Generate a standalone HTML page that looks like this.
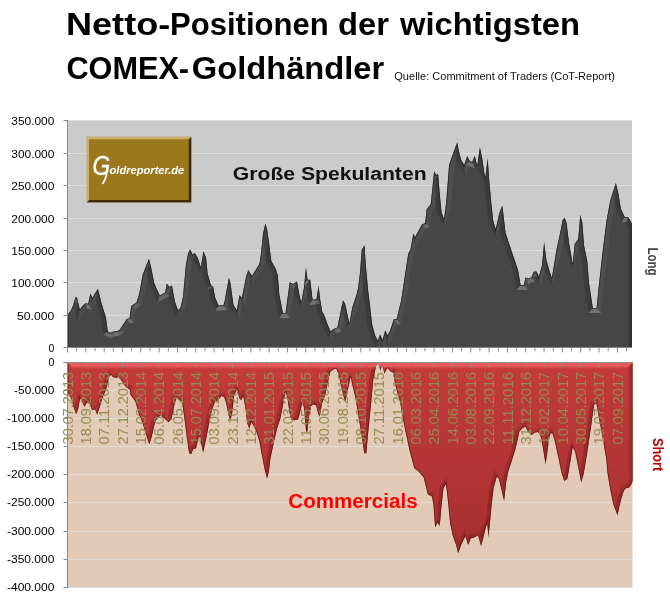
<!DOCTYPE html><html lang="de"><head><meta charset="utf-8"><title>Netto-Positionen der wichtigsten COMEX-Goldhändler</title>
<style>html,body{margin:0;padding:0;background:#fff}svg{display:block}text{font-family:"Liberation Sans",Arial,sans-serif}</style></head><body>
<svg width="670" height="598" viewBox="0 0 670 598">
<defs>
<linearGradient id="gRed" gradientUnits="userSpaceOnUse" x1="0" y1="363" x2="0" y2="555"><stop offset="0" stop-color="#c43a3a"/><stop offset="0.45" stop-color="#b63636"/><stop offset="1" stop-color="#a43030"/></linearGradient>
<clipPath id="cT"><path d="M67.7,348.0 L67.7,314.4 L70.7,311.0 L73.2,305.2 L75.4,297.2 L77.0,297.7 L79.9,309.4 L82.4,306.0 L85.4,303.2 L88.2,303.8 L90.4,293.5 L92.4,297.7 L97.9,288.8 L101.6,303.5 L105.8,316.9 L107.8,331.4 L110.8,332.8 L113.3,331.4 L117.5,331.1 L120.0,329.4 L126.7,318.9 L129.6,318.2 L131.2,306.0 L136.7,302.2 L139.3,293.5 L142.6,275.1 L148.9,258.7 L151.0,266.7 L154.3,283.4 L159.7,295.5 L165.2,292.6 L166.8,283.5 L169.4,287.1 L171.9,285.5 L175.0,301.9 L178.0,310.2 L180.4,308.2 L183.0,296.9 L185.9,265.1 L188.1,253.4 L190.1,249.2 L192.6,254.7 L194.7,253.0 L197.6,257.6 L200.9,267.6 L203.4,251.2 L206.0,257.6 L207.6,273.4 L211.0,285.2 L213.1,286.8 L215.2,297.7 L218.5,305.6 L223.5,305.2 L224.8,300.2 L228.9,277.7 L230.5,283.5 L233.5,305.2 L236.9,310.2 L239.4,295.2 L241.9,297.7 L246.1,276.8 L248.3,270.1 L251.9,276.0 L259.4,264.1 L260.9,254.7 L263.0,233.8 L265.3,223.6 L267.1,229.6 L269.2,244.3 L271.3,261.0 L275.5,268.3 L277.8,275.6 L279.3,294.4 L283.0,313.2 L285.5,313.2 L289.7,282.3 L292.9,284.0 L297.0,281.5 L299.1,293.4 L301.2,302.8 L303.9,288.2 L306.0,267.5 L307.5,279.8 L310.2,279.8 L312.3,297.6 L312.7,299.7 L316.5,299.2 L318.6,285.7 L320.0,298.6 L322.1,311.2 L324.8,316.4 L327.3,323.7 L330.5,331.6 L333.6,328.9 L337.4,327.5 L339.9,315.3 L343.0,300.3 L345.1,303.8 L347.2,313.2 L349.3,323.7 L352.4,307.0 L356.6,294.4 L358.1,288.2 L360.1,272.1 L361.7,250.1 L364.5,245.3 L365.7,264.1 L368.1,290.2 L370.1,306.3 L372.1,324.3 L375.1,335.4 L377.7,340.4 L380.1,334.6 L382.5,340.0 L385.2,330.5 L387.8,335.4 L390.2,330.3 L393.8,319.3 L396.6,319.3 L401.2,300.2 L404.2,280.2 L408.2,254.1 L410.6,249.1 L413.4,233.5 L415.0,237.3 L422.1,224.3 L425.1,223.3 L426.7,209.3 L430.7,204.2 L432.1,191.2 L434.1,171.3 L436.1,175.1 L438.1,174.1 L439.5,191.2 L441.5,212.3 L444.1,219.3 L446.1,203.2 L449.1,165.1 L452.2,156.1 L457.2,142.2 L458.8,151.1 L461.2,160.1 L464.2,165.1 L467.2,155.9 L469.6,161.1 L472.2,162.1 L474.8,155.9 L477.2,166.1 L479.9,147.2 L482.3,159.1 L484.3,173.1 L485.3,178.1 L487.7,158.3 L489.3,181.2 L491.3,203.2 L493.3,221.3 L495.7,229.3 L499.3,213.3 L502.3,205.4 L503.8,217.7 L505.5,232.7 L511.3,250.3 L518.1,270.3 L520.6,284.9 L523.8,284.9 L525.6,277.4 L528.1,278.4 L531.4,277.4 L533.9,271.6 L536.4,271.6 L538.9,276.6 L542.1,265.3 L544.1,241.9 L546.4,260.3 L549.7,271.6 L551.9,277.9 L556.4,250.3 L560.2,232.7 L562.7,219.7 L564.7,217.7 L566.5,222.7 L569.0,242.7 L572.7,264.1 L574.7,244.0 L578.3,239.0 L580.3,214.8 L582.3,222.7 L584.0,245.2 L587.3,261.5 L589.0,282.9 L592.8,308.0 L596.6,308.0 L599.1,282.9 L602.8,250.3 L606.6,220.2 L610.4,200.1 L615.9,183.0 L618.4,193.8 L620.9,208.9 L624.9,217.2 L628.4,217.2 L632.0,223.9 L632.0,348.0 Z"/></clipPath>
<clipPath id="cB"><path d="M67.7,362.5 L67.7,393.1 L71.0,398.1 L74.0,408.2 L76.1,414.3 L78.1,409.2 L80.1,398.1 L82.1,402.2 L84.5,406.7 L87.1,402.2 L90.1,404.2 L92.1,410.2 L95.1,409.2 L97.1,414.7 L99.7,407.2 L102.1,399.2 L106.2,389.1 L109.0,377.0 L111.0,374.6 L112.8,377.0 L115.6,377.8 L118.8,377.0 L121.6,380.8 L125.5,386.4 L129.7,389.4 L130.6,395.1 L135.3,401.2 L139.3,415.2 L142.3,422.2 L146.3,435.3 L149.3,444.4 L151.3,438.3 L155.3,421.2 L160.3,415.2 L164.4,418.2 L168.4,422.2 L171.4,419.2 L175.0,402.2 L177.0,397.1 L180.0,400.2 L182.0,401.2 L184.0,415.2 L187.1,439.3 L189.1,453.3 L191.1,454.3 L193.1,449.3 L196.1,448.3 L199.1,435.3 L201.1,443.3 L203.1,452.8 L206.1,439.3 L209.1,423.2 L212.1,409.2 L215.2,401.2 L218.2,400.2 L221.2,396.1 L224.2,397.1 L226.2,403.2 L228.2,413.2 L230.2,420.7 L232.2,413.2 L234.2,395.1 L237.2,389.1 L239.2,398.1 L241.2,400.2 L243.3,396.1 L245.3,407.2 L247.3,423.2 L249.3,428.7 L251.3,422.2 L253.3,425.2 L256.3,431.3 L259.3,441.3 L262.3,457.3 L264.7,469.4 L267.0,478.5 L268.8,472.0 L270.3,459.4 L273.6,443.3 L277.2,428.0 L280.5,418.0 L283.2,404.0 L285.5,391.4 L287.2,397.0 L289.0,409.0 L290.2,416.5 L291.5,419.5 L294.0,420.2 L298.1,419.6 L300.1,412.2 L302.1,403.2 L304.1,407.2 L306.1,431.3 L307.3,432.0 L309.1,415.2 L311.1,406.2 L313.1,404.2 L316.1,405.2 L318.1,413.2 L319.7,416.7 L322.1,403.2 L325.2,395.1 L328.2,381.1 L330.2,372.1 L333.2,369.4 L336.2,368.6 L338.2,373.1 L340.2,382.1 L343.2,395.1 L345.2,401.7 L347.2,393.1 L349.3,383.0 L350.6,376.5 L351.9,383.0 L355.3,397.1 L358.3,415.2 L361.3,433.3 L364.3,453.3 L366.3,453.3 L368.3,431.3 L371.3,401.2 L373.3,379.1 L376.3,365.0 L378.7,363.5 L380.3,370.5 L382.3,365.0 L384.4,373.6 L387.4,368.0 L388.7,369.2 L390.9,371.7 L393.4,372.6 L395.0,383.4 L397.5,393.5 L400.1,401.8 L401.7,411.9 L404.2,425.2 L406.7,437.0 L408.4,445.3 L410.1,452.5 L414.3,468.2 L418.4,471.3 L423.7,477.6 L427.8,494.3 L432.0,496.4 L433.5,504.8 L435.1,527.2 L437.7,522.5 L439.7,526.1 L441.4,506.9 L443.5,488.1 L446.0,483.9 L447.7,498.5 L450.2,523.6 L452.9,536.1 L456.0,544.5 L458.1,553.3 L461.3,544.5 L465.4,536.1 L468.2,544.9 L470.7,538.2 L474.8,537.2 L478.0,535.1 L481.1,546.0 L483.2,538.2 L485.7,527.8 L487.4,523.6 L488.4,537.6 L489.9,523.6 L491.6,504.8 L493.6,488.1 L496.8,476.6 L498.9,478.7 L501.6,490.1 L504.1,501.0 L506.2,481.8 L508.3,471.3 L511.4,461.9 L515.6,448.4 L519.4,431.4 L523.0,427.7 L525.5,426.5 L527.9,431.4 L531.5,435.0 L535.2,432.6 L538.3,432.1 L541.2,437.4 L543.6,452.0 L545.6,464.4 L547.3,452.0 L549.7,435.0 L552.1,432.6 L554.6,439.9 L558.2,456.8 L561.8,473.8 L564.3,481.1 L567.4,478.7 L570.3,461.7 L572.7,447.1 L575.2,452.0 L577.6,464.1 L581.2,482.6 L583.7,473.8 L587.3,452.0 L590.9,427.7 L594.1,404.7 L596.5,403.5 L599.4,420.5 L603.1,439.9 L606.4,460.0 L607.6,474.0 L610.5,490.4 L613.4,504.5 L617.5,515.3 L619.3,506.8 L621.6,497.5 L623.9,490.4 L626.3,488.1 L629.2,487.5 L631.8,483.4 L632.5,481.1 L632.5,362.5 Z"/></clipPath>
<filter id="bl1" x="-5%" y="-5%" width="110%" height="110%"><feGaussianBlur stdDeviation="0.9"/></filter>
<filter id="bl2" x="-5%" y="-5%" width="110%" height="110%"><feGaussianBlur stdDeviation="1.5"/></filter>
<filter id="bl0" x="-5%" y="-5%" width="110%" height="110%"><feGaussianBlur stdDeviation="0.5"/></filter>
</defs>
<rect width="670" height="598" fill="#fff"/>
<text y="34.6" font-size="31.8" font-weight="bold" fill="#000"><tspan x="65.95" textLength="104.34" lengthAdjust="spacingAndGlyphs">Netto-</tspan><tspan x="170.00" textLength="158.65" lengthAdjust="spacingAndGlyphs">Positionen</tspan> <tspan x="338.10" textLength="50.94" lengthAdjust="spacingAndGlyphs">der</tspan> <tspan x="400.01" textLength="180.01" lengthAdjust="spacingAndGlyphs">wichtigsten</tspan></text>
<text y="79.0" font-size="31.8" font-weight="bold" fill="#000"><tspan x="66.45" textLength="122.60" lengthAdjust="spacingAndGlyphs">COMEX-</tspan><tspan x="191.75" textLength="192.52" lengthAdjust="spacingAndGlyphs">Goldhändler</tspan></text>
<text x="394.30" y="80.0" font-size="10.6" fill="#111" textLength="220.57" lengthAdjust="spacingAndGlyphs">Quelle: Commitment of Traders (CoT-Report)</text>
<rect x="67.5" y="120" width="564.5" height="228" fill="#cbcbcb"/>
<line x1="67.5" x2="632.0" y1="315.5" y2="315.5" stroke="#dddddd" stroke-width="1"/>
<line x1="67.5" x2="632.0" y1="282.5" y2="282.5" stroke="#dddddd" stroke-width="1"/>
<line x1="67.5" x2="632.0" y1="250.5" y2="250.5" stroke="#dddddd" stroke-width="1"/>
<line x1="67.5" x2="632.0" y1="218.5" y2="218.5" stroke="#dddddd" stroke-width="1"/>
<line x1="67.5" x2="632.0" y1="185.5" y2="185.5" stroke="#dddddd" stroke-width="1"/>
<line x1="67.5" x2="632.0" y1="153.5" y2="153.5" stroke="#dddddd" stroke-width="1"/>
<line x1="67.5" x2="632.0" y1="120.5" y2="120.5" stroke="#dddddd" stroke-width="1"/>
<path d="M67.7,348.0 L67.7,314.4 L70.7,311.0 L73.2,305.2 L75.4,297.2 L77.0,297.7 L79.9,309.4 L82.4,306.0 L85.4,303.2 L88.2,303.8 L90.4,293.5 L92.4,297.7 L97.9,288.8 L101.6,303.5 L105.8,316.9 L107.8,331.4 L110.8,332.8 L113.3,331.4 L117.5,331.1 L120.0,329.4 L126.7,318.9 L129.6,318.2 L131.2,306.0 L136.7,302.2 L139.3,293.5 L142.6,275.1 L148.9,258.7 L151.0,266.7 L154.3,283.4 L159.7,295.5 L165.2,292.6 L166.8,283.5 L169.4,287.1 L171.9,285.5 L175.0,301.9 L178.0,310.2 L180.4,308.2 L183.0,296.9 L185.9,265.1 L188.1,253.4 L190.1,249.2 L192.6,254.7 L194.7,253.0 L197.6,257.6 L200.9,267.6 L203.4,251.2 L206.0,257.6 L207.6,273.4 L211.0,285.2 L213.1,286.8 L215.2,297.7 L218.5,305.6 L223.5,305.2 L224.8,300.2 L228.9,277.7 L230.5,283.5 L233.5,305.2 L236.9,310.2 L239.4,295.2 L241.9,297.7 L246.1,276.8 L248.3,270.1 L251.9,276.0 L259.4,264.1 L260.9,254.7 L263.0,233.8 L265.3,223.6 L267.1,229.6 L269.2,244.3 L271.3,261.0 L275.5,268.3 L277.8,275.6 L279.3,294.4 L283.0,313.2 L285.5,313.2 L289.7,282.3 L292.9,284.0 L297.0,281.5 L299.1,293.4 L301.2,302.8 L303.9,288.2 L306.0,267.5 L307.5,279.8 L310.2,279.8 L312.3,297.6 L312.7,299.7 L316.5,299.2 L318.6,285.7 L320.0,298.6 L322.1,311.2 L324.8,316.4 L327.3,323.7 L330.5,331.6 L333.6,328.9 L337.4,327.5 L339.9,315.3 L343.0,300.3 L345.1,303.8 L347.2,313.2 L349.3,323.7 L352.4,307.0 L356.6,294.4 L358.1,288.2 L360.1,272.1 L361.7,250.1 L364.5,245.3 L365.7,264.1 L368.1,290.2 L370.1,306.3 L372.1,324.3 L375.1,335.4 L377.7,340.4 L380.1,334.6 L382.5,340.0 L385.2,330.5 L387.8,335.4 L390.2,330.3 L393.8,319.3 L396.6,319.3 L401.2,300.2 L404.2,280.2 L408.2,254.1 L410.6,249.1 L413.4,233.5 L415.0,237.3 L422.1,224.3 L425.1,223.3 L426.7,209.3 L430.7,204.2 L432.1,191.2 L434.1,171.3 L436.1,175.1 L438.1,174.1 L439.5,191.2 L441.5,212.3 L444.1,219.3 L446.1,203.2 L449.1,165.1 L452.2,156.1 L457.2,142.2 L458.8,151.1 L461.2,160.1 L464.2,165.1 L467.2,155.9 L469.6,161.1 L472.2,162.1 L474.8,155.9 L477.2,166.1 L479.9,147.2 L482.3,159.1 L484.3,173.1 L485.3,178.1 L487.7,158.3 L489.3,181.2 L491.3,203.2 L493.3,221.3 L495.7,229.3 L499.3,213.3 L502.3,205.4 L503.8,217.7 L505.5,232.7 L511.3,250.3 L518.1,270.3 L520.6,284.9 L523.8,284.9 L525.6,277.4 L528.1,278.4 L531.4,277.4 L533.9,271.6 L536.4,271.6 L538.9,276.6 L542.1,265.3 L544.1,241.9 L546.4,260.3 L549.7,271.6 L551.9,277.9 L556.4,250.3 L560.2,232.7 L562.7,219.7 L564.7,217.7 L566.5,222.7 L569.0,242.7 L572.7,264.1 L574.7,244.0 L578.3,239.0 L580.3,214.8 L582.3,222.7 L584.0,245.2 L587.3,261.5 L589.0,282.9 L592.8,308.0 L596.6,308.0 L599.1,282.9 L602.8,250.3 L606.6,220.2 L610.4,200.1 L615.9,183.0 L618.4,193.8 L620.9,208.9 L624.9,217.2 L628.4,217.2 L632.0,223.9 L632.0,348.0 Z" fill="#464646"/>
<g clip-path="url(#cT)">
<g filter="url(#bl0)"><path d="M67.7,314.4 L70.7,311.0 L75.0,313.7 L71.4,317.7 Z" fill="#fff" opacity="0.02"/><path d="M70.7,311.0 L73.2,305.2 L77.9,306.9 L75.0,313.7 Z" fill="#fff" opacity="0.04"/><path d="M73.2,305.2 L75.4,297.2 L78.8,303.5 L77.9,306.9 Z" fill="#fff" opacity="0.05"/><path d="M75.4,297.2 L77.0,297.7 L72.8,301.6 L78.8,303.5 Z" fill="#fff" opacity="0.21"/><path d="M77.0,297.7 L79.9,309.4 L77.6,321.0 L72.8,301.6 Z" fill="#000" opacity="0.15"/><path d="M79.9,309.4 L82.4,306.0 L86.2,309.3 L77.6,321.0 Z" fill="#fff" opacity="0.03"/><path d="M82.4,306.0 L85.4,303.2 L86.9,308.6 L86.2,309.3 Z" fill="#fff" opacity="0.02"/><path d="M85.4,303.2 L88.2,303.8 L92.0,309.7 L86.9,308.6 Z" fill="#fff" opacity="0.23"/><path d="M88.2,303.8 L90.4,293.5 L91.5,302.6 L92.0,309.7 Z" fill="#fff" opacity="0.05"/><path d="M90.4,293.5 L92.4,297.7 L91.8,308.1 L91.5,302.6 Z" fill="#000" opacity="0.13"/><path d="M92.4,297.7 L97.9,288.8 L96.2,299.8 L91.8,308.1 Z" fill="#fff" opacity="0.04"/><path d="M97.9,288.8 L101.6,303.5 L96.8,304.9 L96.2,299.8 Z" fill="#000" opacity="0.15"/><path d="M101.6,303.5 L105.8,316.9 L100.9,318.0 L96.8,304.9 Z" fill="#000" opacity="0.15"/><path d="M105.8,316.9 L107.8,331.4 L103.2,334.8 L100.9,318.0 Z" fill="#000" opacity="0.16"/><path d="M107.8,331.4 L110.8,332.8 L111.0,338.4 L103.2,334.8 Z" fill="#fff" opacity="0.18"/><path d="M110.8,332.8 L113.3,331.4 L114.8,336.3 L111.0,338.4 Z" fill="#fff" opacity="0.16"/><path d="M113.3,331.4 L117.5,331.1 L119.2,336.0 L114.8,336.3 Z" fill="#fff" opacity="0.24"/><path d="M117.5,331.1 L120.0,329.4 L123.7,333.0 L119.2,336.0 Z" fill="#fff" opacity="0.13"/><path d="M120.0,329.4 L126.7,318.9 L129.8,323.3 L123.7,333.0 Z" fill="#fff" opacity="0.03"/><path d="M126.7,318.9 L129.6,318.2 L134.1,322.3 L129.8,323.3 Z" fill="#fff" opacity="0.22"/><path d="M129.6,318.2 L131.2,306.0 L135.9,308.9 L134.1,322.3 Z" fill="#fff" opacity="0.05"/><path d="M131.2,306.0 L136.7,302.2 L141.0,305.3 L135.9,308.9 Z" fill="#fff" opacity="0.13"/><path d="M136.7,302.2 L139.3,293.5 L144.2,294.7 L141.0,305.3 Z" fill="#fff" opacity="0.05"/><path d="M139.3,293.5 L142.6,275.1 L147.4,276.4 L144.2,294.7 Z" fill="#fff" opacity="0.05"/><path d="M142.6,275.1 L148.9,258.7 L148.4,267.4 L147.4,276.4 Z" fill="#fff" opacity="0.04"/><path d="M148.9,258.7 L151.0,266.7 L146.1,267.8 L148.4,267.4 Z" fill="#000" opacity="0.15"/><path d="M151.0,266.7 L154.3,283.4 L149.5,284.9 L146.1,267.8 Z" fill="#000" opacity="0.15"/><path d="M154.3,283.4 L159.7,295.5 L157.3,302.4 L149.5,284.9 Z" fill="#000" opacity="0.13"/><path d="M159.7,295.5 L165.2,292.6 L169.7,295.9 L157.3,302.4 Z" fill="#fff" opacity="0.17"/><path d="M165.2,292.6 L166.8,283.5 L169.3,294.3 L169.7,295.9 Z" fill="#fff" opacity="0.05"/><path d="M166.8,283.5 L169.4,287.1 L168.1,293.9 L169.3,294.3 Z" fill="#000" opacity="0.10"/><path d="M169.4,287.1 L171.9,285.5 L168.4,293.7 L168.1,293.9 Z" fill="#fff" opacity="0.14"/><path d="M171.9,285.5 L175.0,301.9 L170.2,303.2 L168.4,293.7 Z" fill="#000" opacity="0.15"/><path d="M175.0,301.9 L178.0,310.2 L175.7,318.6 L170.2,303.2 Z" fill="#000" opacity="0.14"/><path d="M178.0,310.2 L180.4,308.2 L184.9,311.0 L175.7,318.6 Z" fill="#fff" opacity="0.01"/><path d="M180.4,308.2 L183.0,296.9 L187.9,297.7 L184.9,311.0 Z" fill="#fff" opacity="0.05"/><path d="M183.0,296.9 L185.9,265.1 L190.9,265.8 L187.9,297.7 Z" fill="#fff" opacity="0.05"/><path d="M185.9,265.1 L188.1,253.4 L192.9,255.0 L190.9,265.8 Z" fill="#fff" opacity="0.05"/><path d="M188.1,253.4 L190.1,249.2 L190.0,261.1 L192.9,255.0 Z" fill="#fff" opacity="0.04"/><path d="M190.1,249.2 L192.6,254.7 L190.7,262.7 L190.0,261.1 Z" fill="#000" opacity="0.13"/><path d="M192.6,254.7 L194.7,253.0 L193.5,260.4 L190.7,262.7 Z" fill="#fff" opacity="0.01"/><path d="M194.7,253.0 L197.6,257.6 L193.0,259.7 L193.5,260.4 Z" fill="#000" opacity="0.11"/><path d="M197.6,257.6 L200.9,267.6 L201.5,274.2 L193.0,259.7 Z" fill="#000" opacity="0.14"/><path d="M200.9,267.6 L203.4,251.2 L204.3,258.7 L201.5,274.2 Z" fill="#fff" opacity="0.05"/><path d="M203.4,251.2 L206.0,257.6 L201.1,258.8 L204.3,258.7 Z" fill="#000" opacity="0.14"/><path d="M206.0,257.6 L207.6,273.4 L202.7,274.4 L201.1,258.8 Z" fill="#000" opacity="0.16"/><path d="M207.6,273.4 L211.0,285.2 L206.7,288.2 L202.7,274.4 Z" fill="#000" opacity="0.15"/><path d="M211.0,285.2 L213.1,286.8 L208.6,289.6 L206.7,288.2 Z" fill="#fff" opacity="0.11"/><path d="M213.1,286.8 L215.2,297.7 L210.4,299.2 L208.6,289.6 Z" fill="#000" opacity="0.15"/><path d="M215.2,297.7 L218.5,305.6 L215.3,310.9 L210.4,299.2 Z" fill="#000" opacity="0.14"/><path d="M218.5,305.6 L223.5,305.2 L227.4,309.9 L215.3,310.9 Z" fill="#fff" opacity="0.24"/><path d="M223.5,305.2 L224.8,300.2 L229.7,301.3 L227.4,309.9 Z" fill="#fff" opacity="0.05"/><path d="M224.8,300.2 L228.9,277.7 L229.2,284.1 L229.7,301.3 Z" fill="#fff" opacity="0.05"/><path d="M228.9,277.7 L230.5,283.5 L225.6,284.5 L229.2,284.1 Z" fill="#000" opacity="0.15"/><path d="M230.5,283.5 L233.5,305.2 L228.7,307.0 L225.6,284.5 Z" fill="#000" opacity="0.16"/><path d="M233.5,305.2 L236.9,310.2 L239.2,320.6 L228.7,307.0 Z" fill="#000" opacity="0.10"/><path d="M236.9,310.2 L239.4,295.2 L242.7,305.6 L239.2,320.6 Z" fill="#fff" opacity="0.05"/><path d="M239.4,295.2 L241.9,297.7 L245.0,307.8 L242.7,305.6 Z" fill="#000" opacity="0.07"/><path d="M241.9,297.7 L246.1,276.8 L250.9,278.1 L245.0,307.8 Z" fill="#fff" opacity="0.05"/><path d="M246.1,276.8 L248.3,270.1 L249.7,281.9 L250.9,278.1 Z" fill="#fff" opacity="0.05"/><path d="M248.3,270.1 L251.9,276.0 L251.8,285.5 L249.7,281.9 Z" fill="#000" opacity="0.11"/><path d="M251.9,276.0 L259.4,264.1 L264.2,265.9 L251.8,285.5 Z" fill="#fff" opacity="0.03"/><path d="M259.4,264.1 L260.9,254.7 L265.9,255.3 L264.2,265.9 Z" fill="#fff" opacity="0.05"/><path d="M260.9,254.7 L263.0,233.8 L267.9,234.6 L265.9,255.3 Z" fill="#fff" opacity="0.05"/><path d="M263.0,233.8 L265.3,223.6 L265.6,230.8 L267.9,234.6 Z" fill="#fff" opacity="0.05"/><path d="M265.3,223.6 L267.1,229.6 L262.2,230.7 L265.6,230.8 Z" fill="#000" opacity="0.15"/><path d="M267.1,229.6 L269.2,244.3 L264.2,245.0 L262.2,230.7 Z" fill="#000" opacity="0.16"/><path d="M269.2,244.3 L271.3,261.0 L266.5,262.6 L264.2,245.0 Z" fill="#000" opacity="0.16"/><path d="M271.3,261.0 L275.5,268.3 L270.9,270.3 L266.5,262.6 Z" fill="#000" opacity="0.12"/><path d="M275.5,268.3 L277.8,275.6 L272.9,276.6 L270.9,270.3 Z" fill="#000" opacity="0.15"/><path d="M277.8,275.6 L279.3,294.4 L274.3,295.1 L272.9,276.6 Z" fill="#000" opacity="0.16"/><path d="M279.3,294.4 L283.0,313.2 L278.9,318.2 L274.3,295.1 Z" fill="#000" opacity="0.15"/><path d="M283.0,313.2 L285.5,313.2 L289.9,318.2 L278.9,318.2 Z" fill="#fff" opacity="0.24"/><path d="M285.5,313.2 L289.7,282.3 L293.7,290.1 L289.9,318.2 Z" fill="#fff" opacity="0.05"/><path d="M289.7,282.3 L292.9,284.0 L293.1,289.8 L293.7,290.1 Z" fill="#fff" opacity="0.17"/><path d="M292.9,284.0 L297.0,281.5 L293.3,289.6 L293.1,289.8 Z" fill="#fff" opacity="0.15"/><path d="M297.0,281.5 L299.1,293.4 L294.2,294.4 L293.3,289.6 Z" fill="#000" opacity="0.16"/><path d="M299.1,293.4 L301.2,302.8 L301.3,308.5 L294.2,294.4 Z" fill="#000" opacity="0.15"/><path d="M301.2,302.8 L303.9,288.2 L308.9,288.9 L301.3,308.5 Z" fill="#fff" opacity="0.05"/><path d="M303.9,288.2 L306.0,267.5 L306.0,270.7 L308.9,288.9 Z" fill="#fff" opacity="0.05"/><path d="M306.0,267.5 L307.5,279.8 L303.1,284.8 L306.0,270.7 Z" fill="#000" opacity="0.16"/><path d="M307.5,279.8 L310.2,279.8 L305.8,284.8 L303.1,284.8 Z" fill="#fff" opacity="0.24"/><path d="M310.2,279.8 L312.3,297.6 L307.4,298.4 L305.8,284.8 Z" fill="#000" opacity="0.16"/><path d="M312.3,297.6 L312.7,299.7 L308.7,305.3 L307.4,298.4 Z" fill="#000" opacity="0.15"/><path d="M312.7,299.7 L316.5,299.2 L320.9,303.7 L308.7,305.3 Z" fill="#fff" opacity="0.23"/><path d="M316.5,299.2 L318.6,285.7 L318.5,289.4 L320.9,303.7 Z" fill="#fff" opacity="0.05"/><path d="M318.6,285.7 L320.0,298.6 L315.0,299.3 L318.5,289.4 Z" fill="#000" opacity="0.16"/><path d="M320.0,298.6 L322.1,311.2 L317.3,312.8 L315.0,299.3 Z" fill="#000" opacity="0.16"/><path d="M322.1,311.2 L324.8,316.4 L320.2,318.4 L317.3,312.8 Z" fill="#000" opacity="0.12"/><path d="M324.8,316.4 L327.3,323.7 L322.6,325.4 L320.2,318.4 Z" fill="#000" opacity="0.14"/><path d="M327.3,323.7 L330.5,331.6 L328.5,340.0 L322.6,325.4 Z" fill="#000" opacity="0.14"/><path d="M330.5,331.6 L333.6,328.9 L336.2,333.3 L328.5,340.0 Z" fill="#fff" opacity="0.02"/><path d="M333.6,328.9 L337.4,327.5 L341.7,331.2 L336.2,333.3 Z" fill="#fff" opacity="0.20"/><path d="M337.4,327.5 L339.9,315.3 L344.8,316.3 L341.7,331.2 Z" fill="#fff" opacity="0.05"/><path d="M339.9,315.3 L343.0,300.3 L344.7,310.5 L344.8,316.3 Z" fill="#fff" opacity="0.05"/><path d="M343.0,300.3 L345.1,303.8 L340.4,305.7 L344.7,310.5 Z" fill="#000" opacity="0.11"/><path d="M345.1,303.8 L347.2,313.2 L342.3,314.2 L340.4,305.7 Z" fill="#000" opacity="0.15"/><path d="M347.2,313.2 L349.3,323.7 L349.3,329.1 L342.3,314.2 Z" fill="#000" opacity="0.15"/><path d="M349.3,323.7 L352.4,307.0 L357.3,308.3 L349.3,329.1 Z" fill="#fff" opacity="0.05"/><path d="M352.4,307.0 L356.6,294.4 L361.4,295.8 L357.3,308.3 Z" fill="#fff" opacity="0.04"/><path d="M356.6,294.4 L358.1,288.2 L363.0,289.1 L361.4,295.8 Z" fill="#fff" opacity="0.05"/><path d="M358.1,288.2 L360.1,272.1 L365.1,272.6 L363.0,289.1 Z" fill="#fff" opacity="0.05"/><path d="M360.1,272.1 L361.7,250.1 L366.6,251.6 L365.1,272.6 Z" fill="#fff" opacity="0.05"/><path d="M361.7,250.1 L364.5,245.3 L362.6,253.4 L366.6,251.6 Z" fill="#fff" opacity="0.04"/><path d="M364.5,245.3 L365.7,264.1 L360.7,264.5 L362.6,253.4 Z" fill="#000" opacity="0.16"/><path d="M365.7,264.1 L368.1,290.2 L363.1,290.7 L360.7,264.5 Z" fill="#000" opacity="0.16"/><path d="M368.1,290.2 L370.1,306.3 L365.1,306.9 L363.1,290.7 Z" fill="#000" opacity="0.16"/><path d="M370.1,306.3 L372.1,324.3 L367.2,325.2 L365.1,306.9 Z" fill="#000" opacity="0.16"/><path d="M372.1,324.3 L375.1,335.4 L370.4,337.2 L367.2,325.2 Z" fill="#000" opacity="0.15"/><path d="M375.1,335.4 L377.7,340.4 L378.2,352.2 L370.4,337.2 Z" fill="#000" opacity="0.12"/><path d="M377.7,340.4 L380.1,334.6 L380.2,345.9 L378.2,352.2 Z" fill="#fff" opacity="0.04"/><path d="M380.1,334.6 L382.5,340.0 L383.2,349.7 L380.2,345.9 Z" fill="#000" opacity="0.13"/><path d="M382.5,340.0 L385.2,330.5 L386.3,341.1 L383.2,349.7 Z" fill="#fff" opacity="0.05"/><path d="M385.2,330.5 L387.8,335.4 L388.1,346.6 L386.3,341.1 Z" fill="#000" opacity="0.12"/><path d="M387.8,335.4 L390.2,330.3 L394.9,332.1 L388.1,346.6 Z" fill="#fff" opacity="0.04"/><path d="M390.2,330.3 L393.8,319.3 L397.4,324.3 L394.9,332.1 Z" fill="#fff" opacity="0.05"/><path d="M393.8,319.3 L396.6,319.3 L400.5,324.3 L397.4,324.3 Z" fill="#fff" opacity="0.24"/><path d="M396.6,319.3 L401.2,300.2 L406.1,301.2 L400.5,324.3 Z" fill="#fff" opacity="0.05"/><path d="M401.2,300.2 L404.2,280.2 L409.1,280.9 L406.1,301.2 Z" fill="#fff" opacity="0.05"/><path d="M404.2,280.2 L408.2,254.1 L413.0,255.6 L409.1,280.9 Z" fill="#fff" opacity="0.05"/><path d="M408.2,254.1 L410.6,249.1 L415.4,250.7 L413.0,255.6 Z" fill="#fff" opacity="0.04"/><path d="M410.6,249.1 L413.4,233.5 L414.3,241.6 L415.4,250.7 Z" fill="#fff" opacity="0.05"/><path d="M413.4,233.5 L415.0,237.3 L414.4,248.8 L414.3,241.6 Z" fill="#000" opacity="0.13"/><path d="M415.0,237.3 L422.1,224.3 L425.5,228.4 L414.4,248.8 Z" fill="#fff" opacity="0.04"/><path d="M422.1,224.3 L425.1,223.3 L429.7,227.0 L425.5,228.4 Z" fill="#fff" opacity="0.21"/><path d="M425.1,223.3 L426.7,209.3 L431.5,211.3 L429.7,227.0 Z" fill="#fff" opacity="0.05"/><path d="M426.7,209.3 L430.7,204.2 L435.5,206.2 L431.5,211.3 Z" fill="#fff" opacity="0.03"/><path d="M430.7,204.2 L432.1,191.2 L437.1,191.7 L435.5,206.2 Z" fill="#fff" opacity="0.05"/><path d="M432.1,191.2 L434.1,171.3 L435.7,179.4 L437.1,191.7 Z" fill="#fff" opacity="0.05"/><path d="M434.1,171.3 L436.1,175.1 L434.0,181.8 L435.7,179.4 Z" fill="#000" opacity="0.12"/><path d="M436.1,175.1 L438.1,174.1 L433.7,181.9 L434.0,181.8 Z" fill="#fff" opacity="0.17"/><path d="M438.1,174.1 L439.5,191.2 L434.5,191.6 L433.7,181.9 Z" fill="#000" opacity="0.16"/><path d="M439.5,191.2 L441.5,212.3 L436.6,213.4 L434.5,191.6 Z" fill="#000" opacity="0.16"/><path d="M441.5,212.3 L444.1,219.3 L444.9,226.0 L436.6,213.4 Z" fill="#000" opacity="0.14"/><path d="M444.1,219.3 L446.1,203.2 L451.1,203.7 L444.9,226.0 Z" fill="#fff" opacity="0.05"/><path d="M446.1,203.2 L449.1,165.1 L454.0,166.1 L451.1,203.7 Z" fill="#fff" opacity="0.05"/><path d="M449.1,165.1 L452.2,156.1 L456.9,157.8 L454.0,166.1 Z" fill="#fff" opacity="0.04"/><path d="M452.2,156.1 L457.2,142.2 L456.6,149.6 L456.9,157.8 Z" fill="#fff" opacity="0.04"/><path d="M457.2,142.2 L458.8,151.1 L453.9,152.2 L456.6,149.6 Z" fill="#000" opacity="0.15"/><path d="M458.8,151.1 L461.2,160.1 L456.6,162.1 L453.9,152.2 Z" fill="#000" opacity="0.15"/><path d="M461.2,160.1 L464.2,165.1 L465.5,176.9 L456.6,162.1 Z" fill="#000" opacity="0.11"/><path d="M464.2,165.1 L467.2,155.9 L467.8,166.3 L465.5,176.9 Z" fill="#fff" opacity="0.05"/><path d="M467.2,155.9 L469.6,161.1 L465.9,165.0 L467.8,166.3 Z" fill="#000" opacity="0.13"/><path d="M469.6,161.1 L472.2,162.1 L474.9,168.5 L465.9,165.0 Z" fill="#fff" opacity="0.20"/><path d="M472.2,162.1 L474.8,155.9 L474.1,164.7 L474.9,168.5 Z" fill="#fff" opacity="0.04"/><path d="M474.8,155.9 L477.2,166.1 L477.4,171.4 L474.1,164.7 Z" fill="#000" opacity="0.15"/><path d="M477.2,166.1 L479.9,147.2 L480.0,152.0 L477.4,171.4 Z" fill="#fff" opacity="0.05"/><path d="M479.9,147.2 L482.3,159.1 L477.4,159.9 L480.0,152.0 Z" fill="#000" opacity="0.15"/><path d="M482.3,159.1 L484.3,173.1 L479.4,173.9 L477.4,159.9 Z" fill="#000" opacity="0.16"/><path d="M484.3,173.1 L485.3,178.1 L485.5,182.6 L479.4,173.9 Z" fill="#000" opacity="0.15"/><path d="M485.3,178.1 L487.7,158.3 L487.6,161.0 L485.5,182.6 Z" fill="#fff" opacity="0.05"/><path d="M487.7,158.3 L489.3,181.2 L484.3,181.6 L487.6,161.0 Z" fill="#000" opacity="0.16"/><path d="M489.3,181.2 L491.3,203.2 L486.3,203.7 L484.3,181.6 Z" fill="#000" opacity="0.16"/><path d="M491.3,203.2 L493.3,221.3 L488.4,222.3 L486.3,203.7 Z" fill="#000" opacity="0.16"/><path d="M493.3,221.3 L495.7,229.3 L496.0,236.5 L488.4,222.3 Z" fill="#000" opacity="0.15"/><path d="M495.7,229.3 L499.3,213.3 L504.1,214.7 L496.0,236.5 Z" fill="#fff" opacity="0.05"/><path d="M499.3,213.3 L502.3,205.4 L501.5,212.2 L504.1,214.7 Z" fill="#fff" opacity="0.04"/><path d="M502.3,205.4 L503.8,217.7 L498.8,218.3 L501.5,212.2 Z" fill="#000" opacity="0.16"/><path d="M503.8,217.7 L505.5,232.7 L500.6,233.8 L498.8,218.3 Z" fill="#000" opacity="0.16"/><path d="M505.5,232.7 L511.3,250.3 L506.6,251.9 L500.6,233.8 Z" fill="#000" opacity="0.14"/><path d="M511.3,250.3 L518.1,270.3 L513.2,271.5 L506.6,251.9 Z" fill="#000" opacity="0.14"/><path d="M518.1,270.3 L520.6,284.9 L516.4,289.9 L513.2,271.5 Z" fill="#000" opacity="0.16"/><path d="M520.6,284.9 L523.8,284.9 L527.7,289.9 L516.4,289.9 Z" fill="#fff" opacity="0.24"/><path d="M523.8,284.9 L525.6,277.4 L529.1,284.2 L527.7,289.9 Z" fill="#fff" opacity="0.05"/><path d="M525.6,277.4 L528.1,278.4 L527.9,283.7 L529.1,284.2 Z" fill="#fff" opacity="0.19"/><path d="M528.1,278.4 L531.4,277.4 L535.1,281.5 L527.9,283.7 Z" fill="#fff" opacity="0.21"/><path d="M531.4,277.4 L533.9,271.6 L537.2,276.6 L535.1,281.5 Z" fill="#fff" opacity="0.04"/><path d="M533.9,271.6 L536.4,271.6 L533.3,276.6 L537.2,276.6 Z" fill="#fff" opacity="0.24"/><path d="M536.4,271.6 L538.9,276.6 L539.9,286.9 L533.3,276.6 Z" fill="#000" opacity="0.13"/><path d="M538.9,276.6 L542.1,265.3 L547.0,266.2 L539.9,286.9 Z" fill="#fff" opacity="0.05"/><path d="M542.1,265.3 L544.1,241.9 L544.2,244.9 L547.0,266.2 Z" fill="#fff" opacity="0.05"/><path d="M544.1,241.9 L546.4,260.3 L541.5,261.3 L544.2,244.9 Z" fill="#000" opacity="0.16"/><path d="M546.4,260.3 L549.7,271.6 L544.9,273.1 L541.5,261.3 Z" fill="#000" opacity="0.15"/><path d="M549.7,271.6 L551.9,277.9 L552.5,284.9 L544.9,273.1 Z" fill="#000" opacity="0.14"/><path d="M551.9,277.9 L556.4,250.3 L561.3,251.2 L552.5,284.9 Z" fill="#fff" opacity="0.05"/><path d="M556.4,250.3 L560.2,232.7 L565.1,233.7 L561.3,251.2 Z" fill="#fff" opacity="0.05"/><path d="M560.2,232.7 L562.7,219.7 L567.3,222.2 L565.1,233.7 Z" fill="#fff" opacity="0.05"/><path d="M562.7,219.7 L564.7,217.7 L562.7,226.8 L567.3,222.2 Z" fill="#fff" opacity="0.02"/><path d="M564.7,217.7 L566.5,222.7 L561.6,223.9 L562.7,226.8 Z" fill="#000" opacity="0.14"/><path d="M566.5,222.7 L569.0,242.7 L564.1,243.4 L561.6,223.9 Z" fill="#000" opacity="0.16"/><path d="M569.0,242.7 L572.7,264.1 L572.8,267.9 L564.1,243.4 Z" fill="#000" opacity="0.16"/><path d="M572.7,264.1 L574.7,244.0 L579.5,245.8 L572.8,267.9 Z" fill="#fff" opacity="0.05"/><path d="M574.7,244.0 L578.3,239.0 L583.2,240.8 L579.5,245.8 Z" fill="#fff" opacity="0.03"/><path d="M578.3,239.0 L580.3,214.8 L580.7,219.5 L583.2,240.8 Z" fill="#fff" opacity="0.05"/><path d="M580.3,214.8 L582.3,222.7 L577.3,223.5 L580.7,219.5 Z" fill="#000" opacity="0.15"/><path d="M582.3,222.7 L584.0,245.2 L579.0,245.9 L577.3,223.5 Z" fill="#000" opacity="0.16"/><path d="M584.0,245.2 L587.3,261.5 L582.3,262.2 L579.0,245.9 Z" fill="#000" opacity="0.15"/><path d="M587.3,261.5 L589.0,282.9 L584.0,283.5 L582.3,262.2 Z" fill="#000" opacity="0.16"/><path d="M589.0,282.9 L592.8,308.0 L588.5,313.0 L584.0,283.5 Z" fill="#000" opacity="0.16"/><path d="M592.8,308.0 L596.6,308.0 L601.1,313.0 L588.5,313.0 Z" fill="#fff" opacity="0.24"/><path d="M596.6,308.0 L599.1,282.9 L604.1,283.4 L601.1,313.0 Z" fill="#fff" opacity="0.05"/><path d="M599.1,282.9 L602.8,250.3 L607.8,250.9 L604.1,283.4 Z" fill="#fff" opacity="0.05"/><path d="M602.8,250.3 L606.6,220.2 L611.5,221.0 L607.8,250.9 Z" fill="#fff" opacity="0.05"/><path d="M606.6,220.2 L610.4,200.1 L615.3,201.3 L611.5,221.0 Z" fill="#fff" opacity="0.05"/><path d="M610.4,200.1 L615.9,183.0 L615.6,190.6 L615.3,201.3 Z" fill="#fff" opacity="0.05"/><path d="M615.9,183.0 L618.4,193.8 L613.5,194.8 L615.6,190.6 Z" fill="#000" opacity="0.15"/><path d="M618.4,193.8 L620.9,208.9 L616.1,210.4 L613.5,194.8 Z" fill="#000" opacity="0.16"/><path d="M620.9,208.9 L624.9,217.2 L621.8,222.2 L616.1,210.4 Z" fill="#000" opacity="0.13"/><path d="M624.9,217.2 L628.4,217.2 L625.4,222.2 L621.8,222.2 Z" fill="#fff" opacity="0.24"/><path d="M628.4,217.2 L632.0,223.9 L627.6,226.3 L625.4,222.2 Z" fill="#000" opacity="0.12"/></g>
<path d="M67.7,355.5 L67.7,314.4 L70.7,311.0 L73.2,305.2 L75.4,297.2 L77.0,297.7 L79.9,309.4 L82.4,306.0 L85.4,303.2 L88.2,303.8 L90.4,293.5 L92.4,297.7 L97.9,288.8 L101.6,303.5 L105.8,316.9 L107.8,331.4 L110.8,332.8 L113.3,331.4 L117.5,331.1 L120.0,329.4 L126.7,318.9 L129.6,318.2 L131.2,306.0 L136.7,302.2 L139.3,293.5 L142.6,275.1 L148.9,258.7 L151.0,266.7 L154.3,283.4 L159.7,295.5 L165.2,292.6 L166.8,283.5 L169.4,287.1 L171.9,285.5 L175.0,301.9 L178.0,310.2 L180.4,308.2 L183.0,296.9 L185.9,265.1 L188.1,253.4 L190.1,249.2 L192.6,254.7 L194.7,253.0 L197.6,257.6 L200.9,267.6 L203.4,251.2 L206.0,257.6 L207.6,273.4 L211.0,285.2 L213.1,286.8 L215.2,297.7 L218.5,305.6 L223.5,305.2 L224.8,300.2 L228.9,277.7 L230.5,283.5 L233.5,305.2 L236.9,310.2 L239.4,295.2 L241.9,297.7 L246.1,276.8 L248.3,270.1 L251.9,276.0 L259.4,264.1 L260.9,254.7 L263.0,233.8 L265.3,223.6 L267.1,229.6 L269.2,244.3 L271.3,261.0 L275.5,268.3 L277.8,275.6 L279.3,294.4 L283.0,313.2 L285.5,313.2 L289.7,282.3 L292.9,284.0 L297.0,281.5 L299.1,293.4 L301.2,302.8 L303.9,288.2 L306.0,267.5 L307.5,279.8 L310.2,279.8 L312.3,297.6 L312.7,299.7 L316.5,299.2 L318.6,285.7 L320.0,298.6 L322.1,311.2 L324.8,316.4 L327.3,323.7 L330.5,331.6 L333.6,328.9 L337.4,327.5 L339.9,315.3 L343.0,300.3 L345.1,303.8 L347.2,313.2 L349.3,323.7 L352.4,307.0 L356.6,294.4 L358.1,288.2 L360.1,272.1 L361.7,250.1 L364.5,245.3 L365.7,264.1 L368.1,290.2 L370.1,306.3 L372.1,324.3 L375.1,335.4 L377.7,340.4 L380.1,334.6 L382.5,340.0 L385.2,330.5 L387.8,335.4 L390.2,330.3 L393.8,319.3 L396.6,319.3 L401.2,300.2 L404.2,280.2 L408.2,254.1 L410.6,249.1 L413.4,233.5 L415.0,237.3 L422.1,224.3 L425.1,223.3 L426.7,209.3 L430.7,204.2 L432.1,191.2 L434.1,171.3 L436.1,175.1 L438.1,174.1 L439.5,191.2 L441.5,212.3 L444.1,219.3 L446.1,203.2 L449.1,165.1 L452.2,156.1 L457.2,142.2 L458.8,151.1 L461.2,160.1 L464.2,165.1 L467.2,155.9 L469.6,161.1 L472.2,162.1 L474.8,155.9 L477.2,166.1 L479.9,147.2 L482.3,159.1 L484.3,173.1 L485.3,178.1 L487.7,158.3 L489.3,181.2 L491.3,203.2 L493.3,221.3 L495.7,229.3 L499.3,213.3 L502.3,205.4 L503.8,217.7 L505.5,232.7 L511.3,250.3 L518.1,270.3 L520.6,284.9 L523.8,284.9 L525.6,277.4 L528.1,278.4 L531.4,277.4 L533.9,271.6 L536.4,271.6 L538.9,276.6 L542.1,265.3 L544.1,241.9 L546.4,260.3 L549.7,271.6 L551.9,277.9 L556.4,250.3 L560.2,232.7 L562.7,219.7 L564.7,217.7 L566.5,222.7 L569.0,242.7 L572.7,264.1 L574.7,244.0 L578.3,239.0 L580.3,214.8 L582.3,222.7 L584.0,245.2 L587.3,261.5 L589.0,282.9 L592.8,308.0 L596.6,308.0 L599.1,282.9 L602.8,250.3 L606.6,220.2 L610.4,200.1 L615.9,183.0 L618.4,193.8 L620.9,208.9 L624.9,217.2 L628.4,217.2 L632.0,223.9 L632.0,355.5 Z" fill="none" stroke="#1e1e1e" stroke-width="1.6" opacity="0.8" filter="url(#bl0)"/>
<rect x="628.8" y="120" width="4" height="228" fill="#2e2e2e" opacity="0.7" filter="url(#bl1)"/>
</g>
<line x1="67.5" x2="67.5" y1="120" y2="348" stroke="#868686" stroke-width="1"/>
<line x1="63.5" x2="632.0" y1="347.5" y2="347.5" stroke="#868686" stroke-width="1"/>
<text x="54.3" y="351.8" font-size="10.7" text-anchor="end" fill="#000" textLength="5.9" lengthAdjust="spacingAndGlyphs">0</text>
<line x1="63.5" x2="67.5" y1="315.5" y2="315.5" stroke="#868686" stroke-width="1"/>
<text x="54.3" y="319.8" font-size="10.7" text-anchor="end" fill="#000" textLength="37.2" lengthAdjust="spacingAndGlyphs">50.000</text>
<line x1="63.5" x2="67.5" y1="282.5" y2="282.5" stroke="#868686" stroke-width="1"/>
<text x="54.3" y="286.8" font-size="10.7" text-anchor="end" fill="#000" textLength="43.0" lengthAdjust="spacingAndGlyphs">100.000</text>
<line x1="63.5" x2="67.5" y1="250.5" y2="250.5" stroke="#868686" stroke-width="1"/>
<text x="54.3" y="254.8" font-size="10.7" text-anchor="end" fill="#000" textLength="43.0" lengthAdjust="spacingAndGlyphs">150.000</text>
<line x1="63.5" x2="67.5" y1="218.5" y2="218.5" stroke="#868686" stroke-width="1"/>
<text x="54.3" y="222.8" font-size="10.7" text-anchor="end" fill="#000" textLength="43.0" lengthAdjust="spacingAndGlyphs">200.000</text>
<line x1="63.5" x2="67.5" y1="185.5" y2="185.5" stroke="#868686" stroke-width="1"/>
<text x="54.3" y="189.8" font-size="10.7" text-anchor="end" fill="#000" textLength="43.0" lengthAdjust="spacingAndGlyphs">250.000</text>
<line x1="63.5" x2="67.5" y1="153.5" y2="153.5" stroke="#868686" stroke-width="1"/>
<text x="54.3" y="157.8" font-size="10.7" text-anchor="end" fill="#000" textLength="43.0" lengthAdjust="spacingAndGlyphs">300.000</text>
<line x1="63.5" x2="67.5" y1="120.5" y2="120.5" stroke="#868686" stroke-width="1"/>
<text x="54.3" y="124.8" font-size="10.7" text-anchor="end" fill="#000" textLength="43.0" lengthAdjust="spacingAndGlyphs">350.000</text>
<line x1="67.50" x2="67.50" y1="348" y2="352.4" stroke="#868686" stroke-width="1"/>
<line x1="76.66" x2="76.66" y1="348" y2="351.4" stroke="#868686" stroke-width="1"/>
<line x1="85.83" x2="85.83" y1="348" y2="352.4" stroke="#868686" stroke-width="1"/>
<line x1="95.00" x2="95.00" y1="348" y2="351.4" stroke="#868686" stroke-width="1"/>
<line x1="104.16" x2="104.16" y1="348" y2="352.4" stroke="#868686" stroke-width="1"/>
<line x1="113.32" x2="113.32" y1="348" y2="351.4" stroke="#868686" stroke-width="1"/>
<line x1="122.49" x2="122.49" y1="348" y2="352.4" stroke="#868686" stroke-width="1"/>
<line x1="131.66" x2="131.66" y1="348" y2="351.4" stroke="#868686" stroke-width="1"/>
<line x1="140.82" x2="140.82" y1="348" y2="352.4" stroke="#868686" stroke-width="1"/>
<line x1="149.98" x2="149.98" y1="348" y2="351.4" stroke="#868686" stroke-width="1"/>
<line x1="159.15" x2="159.15" y1="348" y2="352.4" stroke="#868686" stroke-width="1"/>
<line x1="168.31" x2="168.31" y1="348" y2="351.4" stroke="#868686" stroke-width="1"/>
<line x1="177.48" x2="177.48" y1="348" y2="352.4" stroke="#868686" stroke-width="1"/>
<line x1="186.64" x2="186.64" y1="348" y2="351.4" stroke="#868686" stroke-width="1"/>
<line x1="195.81" x2="195.81" y1="348" y2="352.4" stroke="#868686" stroke-width="1"/>
<line x1="204.97" x2="204.97" y1="348" y2="351.4" stroke="#868686" stroke-width="1"/>
<line x1="214.14" x2="214.14" y1="348" y2="352.4" stroke="#868686" stroke-width="1"/>
<line x1="223.30" x2="223.30" y1="348" y2="351.4" stroke="#868686" stroke-width="1"/>
<line x1="232.47" x2="232.47" y1="348" y2="352.4" stroke="#868686" stroke-width="1"/>
<line x1="241.63" x2="241.63" y1="348" y2="351.4" stroke="#868686" stroke-width="1"/>
<line x1="250.80" x2="250.80" y1="348" y2="352.4" stroke="#868686" stroke-width="1"/>
<line x1="259.96" x2="259.96" y1="348" y2="351.4" stroke="#868686" stroke-width="1"/>
<line x1="269.13" x2="269.13" y1="348" y2="352.4" stroke="#868686" stroke-width="1"/>
<line x1="278.29" x2="278.29" y1="348" y2="351.4" stroke="#868686" stroke-width="1"/>
<line x1="287.46" x2="287.46" y1="348" y2="352.4" stroke="#868686" stroke-width="1"/>
<line x1="296.62" x2="296.62" y1="348" y2="351.4" stroke="#868686" stroke-width="1"/>
<line x1="305.79" x2="305.79" y1="348" y2="352.4" stroke="#868686" stroke-width="1"/>
<line x1="314.95" x2="314.95" y1="348" y2="351.4" stroke="#868686" stroke-width="1"/>
<line x1="324.12" x2="324.12" y1="348" y2="352.4" stroke="#868686" stroke-width="1"/>
<line x1="333.28" x2="333.28" y1="348" y2="351.4" stroke="#868686" stroke-width="1"/>
<line x1="342.45" x2="342.45" y1="348" y2="352.4" stroke="#868686" stroke-width="1"/>
<line x1="351.61" x2="351.61" y1="348" y2="351.4" stroke="#868686" stroke-width="1"/>
<line x1="360.78" x2="360.78" y1="348" y2="352.4" stroke="#868686" stroke-width="1"/>
<line x1="369.94" x2="369.94" y1="348" y2="351.4" stroke="#868686" stroke-width="1"/>
<line x1="379.11" x2="379.11" y1="348" y2="352.4" stroke="#868686" stroke-width="1"/>
<line x1="388.27" x2="388.27" y1="348" y2="351.4" stroke="#868686" stroke-width="1"/>
<line x1="397.44" x2="397.44" y1="348" y2="352.4" stroke="#868686" stroke-width="1"/>
<line x1="406.60" x2="406.60" y1="348" y2="351.4" stroke="#868686" stroke-width="1"/>
<line x1="415.77" x2="415.77" y1="348" y2="352.4" stroke="#868686" stroke-width="1"/>
<line x1="424.93" x2="424.93" y1="348" y2="351.4" stroke="#868686" stroke-width="1"/>
<line x1="434.10" x2="434.10" y1="348" y2="352.4" stroke="#868686" stroke-width="1"/>
<line x1="443.26" x2="443.26" y1="348" y2="351.4" stroke="#868686" stroke-width="1"/>
<line x1="452.43" x2="452.43" y1="348" y2="352.4" stroke="#868686" stroke-width="1"/>
<line x1="461.59" x2="461.59" y1="348" y2="351.4" stroke="#868686" stroke-width="1"/>
<line x1="470.76" x2="470.76" y1="348" y2="352.4" stroke="#868686" stroke-width="1"/>
<line x1="479.92" x2="479.92" y1="348" y2="351.4" stroke="#868686" stroke-width="1"/>
<line x1="489.09" x2="489.09" y1="348" y2="352.4" stroke="#868686" stroke-width="1"/>
<line x1="498.25" x2="498.25" y1="348" y2="351.4" stroke="#868686" stroke-width="1"/>
<line x1="507.42" x2="507.42" y1="348" y2="352.4" stroke="#868686" stroke-width="1"/>
<line x1="516.59" x2="516.59" y1="348" y2="351.4" stroke="#868686" stroke-width="1"/>
<line x1="525.75" x2="525.75" y1="348" y2="352.4" stroke="#868686" stroke-width="1"/>
<line x1="534.91" x2="534.91" y1="348" y2="351.4" stroke="#868686" stroke-width="1"/>
<line x1="544.08" x2="544.08" y1="348" y2="352.4" stroke="#868686" stroke-width="1"/>
<line x1="553.24" x2="553.24" y1="348" y2="351.4" stroke="#868686" stroke-width="1"/>
<line x1="562.41" x2="562.41" y1="348" y2="352.4" stroke="#868686" stroke-width="1"/>
<line x1="571.57" x2="571.57" y1="348" y2="351.4" stroke="#868686" stroke-width="1"/>
<line x1="580.74" x2="580.74" y1="348" y2="352.4" stroke="#868686" stroke-width="1"/>
<line x1="589.90" x2="589.90" y1="348" y2="351.4" stroke="#868686" stroke-width="1"/>
<line x1="599.07" x2="599.07" y1="348" y2="352.4" stroke="#868686" stroke-width="1"/>
<line x1="608.23" x2="608.23" y1="348" y2="351.4" stroke="#868686" stroke-width="1"/>
<line x1="617.40" x2="617.40" y1="348" y2="352.4" stroke="#868686" stroke-width="1"/>
<line x1="626.56" x2="626.56" y1="348" y2="351.4" stroke="#868686" stroke-width="1"/>
<rect x="67.5" y="362" width="565.0" height="226" fill="#e3cab6"/>
<line x1="67.5" x2="632.5" y1="390.5" y2="390.5" stroke="#dedbd8" stroke-width="1"/>
<line x1="67.5" x2="632.5" y1="418.5" y2="418.5" stroke="#dedbd8" stroke-width="1"/>
<line x1="67.5" x2="632.5" y1="446.5" y2="446.5" stroke="#dedbd8" stroke-width="1"/>
<line x1="67.5" x2="632.5" y1="474.5" y2="474.5" stroke="#dedbd8" stroke-width="1"/>
<line x1="67.5" x2="632.5" y1="502.5" y2="502.5" stroke="#dedbd8" stroke-width="1"/>
<line x1="67.5" x2="632.5" y1="531.5" y2="531.5" stroke="#dedbd8" stroke-width="1"/>
<line x1="67.5" x2="632.5" y1="559.5" y2="559.5" stroke="#dedbd8" stroke-width="1"/>
<line x1="67.5" x2="632.5" y1="587.5" y2="587.5" stroke="#dedbd8" stroke-width="1"/>
<path d="M67.7,362.5 L67.7,393.1 L71.0,398.1 L74.0,408.2 L76.1,414.3 L78.1,409.2 L80.1,398.1 L82.1,402.2 L84.5,406.7 L87.1,402.2 L90.1,404.2 L92.1,410.2 L95.1,409.2 L97.1,414.7 L99.7,407.2 L102.1,399.2 L106.2,389.1 L109.0,377.0 L111.0,374.6 L112.8,377.0 L115.6,377.8 L118.8,377.0 L121.6,380.8 L125.5,386.4 L129.7,389.4 L130.6,395.1 L135.3,401.2 L139.3,415.2 L142.3,422.2 L146.3,435.3 L149.3,444.4 L151.3,438.3 L155.3,421.2 L160.3,415.2 L164.4,418.2 L168.4,422.2 L171.4,419.2 L175.0,402.2 L177.0,397.1 L180.0,400.2 L182.0,401.2 L184.0,415.2 L187.1,439.3 L189.1,453.3 L191.1,454.3 L193.1,449.3 L196.1,448.3 L199.1,435.3 L201.1,443.3 L203.1,452.8 L206.1,439.3 L209.1,423.2 L212.1,409.2 L215.2,401.2 L218.2,400.2 L221.2,396.1 L224.2,397.1 L226.2,403.2 L228.2,413.2 L230.2,420.7 L232.2,413.2 L234.2,395.1 L237.2,389.1 L239.2,398.1 L241.2,400.2 L243.3,396.1 L245.3,407.2 L247.3,423.2 L249.3,428.7 L251.3,422.2 L253.3,425.2 L256.3,431.3 L259.3,441.3 L262.3,457.3 L264.7,469.4 L267.0,478.5 L268.8,472.0 L270.3,459.4 L273.6,443.3 L277.2,428.0 L280.5,418.0 L283.2,404.0 L285.5,391.4 L287.2,397.0 L289.0,409.0 L290.2,416.5 L291.5,419.5 L294.0,420.2 L298.1,419.6 L300.1,412.2 L302.1,403.2 L304.1,407.2 L306.1,431.3 L307.3,432.0 L309.1,415.2 L311.1,406.2 L313.1,404.2 L316.1,405.2 L318.1,413.2 L319.7,416.7 L322.1,403.2 L325.2,395.1 L328.2,381.1 L330.2,372.1 L333.2,369.4 L336.2,368.6 L338.2,373.1 L340.2,382.1 L343.2,395.1 L345.2,401.7 L347.2,393.1 L349.3,383.0 L350.6,376.5 L351.9,383.0 L355.3,397.1 L358.3,415.2 L361.3,433.3 L364.3,453.3 L366.3,453.3 L368.3,431.3 L371.3,401.2 L373.3,379.1 L376.3,365.0 L378.7,363.5 L380.3,370.5 L382.3,365.0 L384.4,373.6 L387.4,368.0 L388.7,369.2 L390.9,371.7 L393.4,372.6 L395.0,383.4 L397.5,393.5 L400.1,401.8 L401.7,411.9 L404.2,425.2 L406.7,437.0 L408.4,445.3 L410.1,452.5 L414.3,468.2 L418.4,471.3 L423.7,477.6 L427.8,494.3 L432.0,496.4 L433.5,504.8 L435.1,527.2 L437.7,522.5 L439.7,526.1 L441.4,506.9 L443.5,488.1 L446.0,483.9 L447.7,498.5 L450.2,523.6 L452.9,536.1 L456.0,544.5 L458.1,553.3 L461.3,544.5 L465.4,536.1 L468.2,544.9 L470.7,538.2 L474.8,537.2 L478.0,535.1 L481.1,546.0 L483.2,538.2 L485.7,527.8 L487.4,523.6 L488.4,537.6 L489.9,523.6 L491.6,504.8 L493.6,488.1 L496.8,476.6 L498.9,478.7 L501.6,490.1 L504.1,501.0 L506.2,481.8 L508.3,471.3 L511.4,461.9 L515.6,448.4 L519.4,431.4 L523.0,427.7 L525.5,426.5 L527.9,431.4 L531.5,435.0 L535.2,432.6 L538.3,432.1 L541.2,437.4 L543.6,452.0 L545.6,464.4 L547.3,452.0 L549.7,435.0 L552.1,432.6 L554.6,439.9 L558.2,456.8 L561.8,473.8 L564.3,481.1 L567.4,478.7 L570.3,461.7 L572.7,447.1 L575.2,452.0 L577.6,464.1 L581.2,482.6 L583.7,473.8 L587.3,452.0 L590.9,427.7 L594.1,404.7 L596.5,403.5 L599.4,420.5 L603.1,439.9 L606.4,460.0 L607.6,474.0 L610.5,490.4 L613.4,504.5 L617.5,515.3 L619.3,506.8 L621.6,497.5 L623.9,490.4 L626.3,488.1 L629.2,487.5 L631.8,483.4 L632.5,481.1 L632.5,362.5 Z" fill="url(#gRed)"/>
<g clip-path="url(#cB)">
<g filter="url(#bl0)"><path d="M76.1,414.3 L78.1,409.2 L74.2,408.1 L76.3,406.4 Z" fill="#400" opacity="0.19"/><path d="M78.1,409.2 L80.1,398.1 L79.1,391.1 L74.2,408.1 Z" fill="#400" opacity="0.21"/><path d="M84.5,406.7 L87.1,402.2 L85.8,396.5 L84.6,398.5 Z" fill="#400" opacity="0.17"/><path d="M87.1,402.2 L90.1,404.2 L93.5,401.6 L85.8,396.5 Z" fill="#400" opacity="0.18"/><path d="M92.1,410.2 L95.1,409.2 L97.5,404.2 L94.6,405.1 Z" fill="#400" opacity="0.18"/><path d="M97.1,414.7 L99.7,407.2 L95.9,406.0 L97.0,407.1 Z" fill="#400" opacity="0.20"/><path d="M99.7,407.2 L102.1,399.2 L98.3,397.9 L95.9,406.0 Z" fill="#400" opacity="0.20"/><path d="M102.1,399.2 L106.2,389.1 L102.4,387.9 L98.3,397.9 Z" fill="#400" opacity="0.19"/><path d="M106.2,389.1 L109.0,377.0 L105.3,375.2 L102.4,387.9 Z" fill="#400" opacity="0.21"/><path d="M109.0,377.0 L111.0,374.6 L111.2,368.2 L105.3,375.2 Z" fill="#400" opacity="0.14"/><path d="M112.8,377.0 L115.6,377.8 L115.7,373.7 L115.2,373.5 Z" fill="#400" opacity="0.18"/><path d="M115.6,377.8 L118.8,377.0 L120.4,372.5 L115.7,373.7 Z" fill="#400" opacity="0.18"/><path d="M125.5,386.4 L129.7,389.4 L133.4,387.1 L128.4,383.5 Z" fill="#400" opacity="0.18"/><path d="M149.3,444.4 L151.3,438.3 L147.4,437.2 L149.3,437.3 Z" fill="#400" opacity="0.20"/><path d="M151.3,438.3 L155.3,421.2 L151.6,419.4 L147.4,437.2 Z" fill="#400" opacity="0.21"/><path d="M155.3,421.2 L160.3,415.2 L159.6,409.8 L151.6,419.4 Z" fill="#400" opacity="0.14"/><path d="M160.3,415.2 L164.4,418.2 L167.0,415.2 L159.6,409.8 Z" fill="#400" opacity="0.18"/><path d="M168.4,422.2 L171.4,419.2 L167.7,417.2 L168.4,416.5 Z" fill="#400" opacity="0.11"/><path d="M171.4,419.2 L175.0,402.2 L171.2,401.0 L167.7,417.2 Z" fill="#400" opacity="0.21"/><path d="M175.0,402.2 L177.0,397.1 L175.5,389.8 L171.2,401.0 Z" fill="#400" opacity="0.19"/><path d="M180.0,400.2 L182.0,401.2 L185.7,398.6 L182.4,396.9 Z" fill="#400" opacity="0.18"/><path d="M189.1,453.3 L191.1,454.3 L189.0,448.8 L192.8,450.7 Z" fill="#400" opacity="0.18"/><path d="M191.1,454.3 L193.1,449.3 L190.1,446.1 L189.0,448.8 Z" fill="#400" opacity="0.19"/><path d="M193.1,449.3 L196.1,448.3 L192.7,445.2 L190.1,446.1 Z" fill="#400" opacity="0.18"/><path d="M196.1,448.3 L199.1,435.3 L199.1,430.0 L192.7,445.2 Z" fill="#400" opacity="0.21"/><path d="M203.1,452.8 L206.1,439.3 L202.2,438.5 L203.1,448.0 Z" fill="#400" opacity="0.21"/><path d="M206.1,439.3 L209.1,423.2 L205.2,422.4 L202.2,438.5 Z" fill="#400" opacity="0.21"/><path d="M209.1,423.2 L212.1,409.2 L208.3,408.1 L205.2,422.4 Z" fill="#400" opacity="0.21"/><path d="M212.1,409.2 L215.2,401.2 L212.2,398.0 L208.3,408.1 Z" fill="#400" opacity="0.20"/><path d="M215.2,401.2 L218.2,400.2 L215.7,396.8 L212.2,398.0 Z" fill="#400" opacity="0.18"/><path d="M218.2,400.2 L221.2,396.1 L219.7,391.4 L215.7,396.8 Z" fill="#400" opacity="0.15"/><path d="M221.2,396.1 L224.2,397.1 L227.4,393.9 L219.7,391.4 Z" fill="#400" opacity="0.18"/><path d="M230.2,420.7 L232.2,413.2 L228.3,412.5 L230.2,414.8 Z" fill="#400" opacity="0.21"/><path d="M232.2,413.2 L234.2,395.1 L230.3,394.0 L228.3,412.5 Z" fill="#400" opacity="0.22"/><path d="M234.2,395.1 L237.2,389.1 L238.1,381.5 L230.3,394.0 Z" fill="#400" opacity="0.18"/><path d="M241.2,400.2 L243.3,396.1 L244.4,388.9 L240.2,393.4 Z" fill="#400" opacity="0.18"/><path d="M249.3,428.7 L251.3,422.2 L250.0,413.0 L249.1,421.4 Z" fill="#400" opacity="0.20"/><path d="M267.0,478.5 L268.8,472.0 L264.9,471.2 L267.1,472.6 Z" fill="#400" opacity="0.21"/><path d="M268.8,472.0 L270.3,459.4 L266.3,458.8 L264.9,471.2 Z" fill="#400" opacity="0.22"/><path d="M270.3,459.4 L273.6,443.3 L269.7,442.4 L266.3,458.8 Z" fill="#400" opacity="0.21"/><path d="M273.6,443.3 L277.2,428.0 L273.3,426.9 L269.7,442.4 Z" fill="#400" opacity="0.21"/><path d="M277.2,428.0 L280.5,418.0 L276.6,417.0 L273.3,426.9 Z" fill="#400" opacity="0.20"/><path d="M280.5,418.0 L283.2,404.0 L279.3,403.3 L276.6,417.0 Z" fill="#400" opacity="0.21"/><path d="M283.2,404.0 L285.5,391.4 L285.2,386.0 L279.3,403.3 Z" fill="#400" opacity="0.21"/><path d="M291.5,419.5 L294.0,420.2 L294.3,416.1 L294.4,416.2 Z" fill="#400" opacity="0.18"/><path d="M294.0,420.2 L298.1,419.6 L294.9,416.0 L294.3,416.1 Z" fill="#400" opacity="0.18"/><path d="M298.1,419.6 L300.1,412.2 L296.2,411.2 L294.9,416.0 Z" fill="#400" opacity="0.21"/><path d="M300.1,412.2 L302.1,403.2 L301.2,395.6 L296.2,411.2 Z" fill="#400" opacity="0.21"/><path d="M306.1,431.3 L307.3,432.0 L304.0,425.4 L309.9,428.9 Z" fill="#400" opacity="0.18"/><path d="M307.3,432.0 L309.1,415.2 L305.1,414.6 L304.0,425.4 Z" fill="#400" opacity="0.22"/><path d="M309.1,415.2 L311.1,406.2 L307.4,404.2 L305.1,414.6 Z" fill="#400" opacity="0.21"/><path d="M311.1,406.2 L313.1,404.2 L312.0,399.6 L307.4,404.2 Z" fill="#400" opacity="0.11"/><path d="M313.1,404.2 L316.1,405.2 L319.4,402.1 L312.0,399.6 Z" fill="#400" opacity="0.18"/><path d="M319.7,416.7 L322.1,403.2 L318.2,402.1 L318.8,409.9 Z" fill="#400" opacity="0.21"/><path d="M322.1,403.2 L325.2,395.1 L321.4,394.0 L318.2,402.1 Z" fill="#400" opacity="0.20"/><path d="M325.2,395.1 L328.2,381.1 L324.3,380.2 L321.4,394.0 Z" fill="#400" opacity="0.21"/><path d="M328.2,381.1 L330.2,372.1 L326.6,370.0 L324.3,380.2 Z" fill="#400" opacity="0.21"/><path d="M330.2,372.1 L333.2,369.4 L331.2,365.8 L326.6,370.0 Z" fill="#400" opacity="0.10"/><path d="M333.2,369.4 L336.2,368.6 L338.5,363.9 L331.2,365.8 Z" fill="#400" opacity="0.18"/><path d="M345.2,401.7 L347.2,393.1 L343.3,392.2 L345.0,395.8 Z" fill="#400" opacity="0.21"/><path d="M347.2,393.1 L349.3,383.0 L345.4,382.2 L343.3,392.2 Z" fill="#400" opacity="0.21"/><path d="M349.3,383.0 L350.6,376.5 L350.6,372.0 L345.4,382.2 Z" fill="#400" opacity="0.21"/><path d="M364.3,453.3 L366.3,453.3 L362.6,449.3 L367.7,449.3 Z" fill="#400" opacity="0.18"/><path d="M366.3,453.3 L368.3,431.3 L364.3,430.9 L362.6,449.3 Z" fill="#400" opacity="0.22"/><path d="M368.3,431.3 L371.3,401.2 L367.3,400.8 L364.3,430.9 Z" fill="#400" opacity="0.22"/><path d="M371.3,401.2 L373.3,379.1 L369.3,378.5 L367.3,400.8 Z" fill="#400" opacity="0.22"/><path d="M373.3,379.1 L376.3,365.0 L372.7,362.5 L369.3,378.5 Z" fill="#400" opacity="0.21"/><path d="M376.3,365.0 L378.7,363.5 L381.3,357.1 L372.7,362.5 Z" fill="#400" opacity="0.05"/><path d="M380.3,370.5 L382.3,365.0 L382.7,358.4 L380.7,364.0 Z" fill="#400" opacity="0.20"/><path d="M384.4,373.6 L387.4,368.0 L386.3,361.6 L385.4,365.5 Z" fill="#400" opacity="0.18"/><path d="M390.9,371.7 L393.4,372.6 L397.0,369.6 L393.2,368.3 Z" fill="#400" opacity="0.18"/><path d="M427.8,494.3 L432.0,496.4 L435.6,493.7 L431.2,491.5 Z" fill="#400" opacity="0.18"/><path d="M435.1,527.2 L437.7,522.5 L437.7,514.3 L436.5,520.9 Z" fill="#400" opacity="0.17"/><path d="M439.7,526.1 L441.4,506.9 L437.4,506.5 L438.3,519.5 Z" fill="#400" opacity="0.22"/><path d="M441.4,506.9 L443.5,488.1 L439.6,486.8 L437.4,506.5 Z" fill="#400" opacity="0.22"/><path d="M443.5,488.1 L446.0,483.9 L447.5,476.7 L439.6,486.8 Z" fill="#400" opacity="0.17"/><path d="M458.1,553.3 L461.3,544.5 L457.6,542.9 L458.5,546.7 Z" fill="#400" opacity="0.20"/><path d="M461.3,544.5 L465.4,536.1 L466.0,527.6 L457.6,542.9 Z" fill="#400" opacity="0.18"/><path d="M468.2,544.9 L470.7,538.2 L467.7,534.8 L468.4,537.4 Z" fill="#400" opacity="0.20"/><path d="M470.7,538.2 L474.8,537.2 L473.2,533.5 L467.7,534.8 Z" fill="#400" opacity="0.18"/><path d="M474.8,537.2 L478.0,535.1 L480.4,528.8 L473.2,533.5 Z" fill="#400" opacity="0.05"/><path d="M481.1,546.0 L483.2,538.2 L479.3,537.2 L481.1,539.9 Z" fill="#400" opacity="0.21"/><path d="M483.2,538.2 L485.7,527.8 L481.9,526.6 L479.3,537.2 Z" fill="#400" opacity="0.21"/><path d="M485.7,527.8 L487.4,523.6 L488.2,518.5 L481.9,526.6 Z" fill="#400" opacity="0.19"/><path d="M488.4,537.6 L489.9,523.6 L485.9,523.2 L488.4,535.6 Z" fill="#400" opacity="0.22"/><path d="M489.9,523.6 L491.6,504.8 L487.6,504.4 L485.9,523.2 Z" fill="#400" opacity="0.22"/><path d="M491.6,504.8 L493.6,488.1 L489.7,487.3 L487.6,504.4 Z" fill="#400" opacity="0.22"/><path d="M493.6,488.1 L496.8,476.6 L494.8,468.9 L489.7,487.3 Z" fill="#400" opacity="0.21"/><path d="M504.1,501.0 L506.2,481.8 L502.2,481.2 L503.9,497.2 Z" fill="#400" opacity="0.22"/><path d="M506.2,481.8 L508.3,471.3 L504.4,470.3 L502.2,481.2 Z" fill="#400" opacity="0.21"/><path d="M508.3,471.3 L511.4,461.9 L507.6,460.7 L504.4,470.3 Z" fill="#400" opacity="0.20"/><path d="M511.4,461.9 L515.6,448.4 L511.7,447.4 L507.6,460.7 Z" fill="#400" opacity="0.20"/><path d="M515.6,448.4 L519.4,431.4 L515.7,429.4 L511.7,447.4 Z" fill="#400" opacity="0.21"/><path d="M519.4,431.4 L523.0,427.7 L520.6,424.4 L515.7,429.4 Z" fill="#400" opacity="0.12"/><path d="M523.0,427.7 L525.5,426.5 L527.3,421.2 L520.6,424.4 Z" fill="#400" opacity="0.18"/><path d="M531.5,435.0 L535.2,432.6 L533.7,428.8 L532.0,429.9 Z" fill="#400" opacity="0.05"/><path d="M535.2,432.6 L538.3,432.1 L540.5,427.7 L533.7,428.8 Z" fill="#400" opacity="0.18"/><path d="M545.6,464.4 L547.3,452.0 L543.3,451.4 L545.6,461.0 Z" fill="#400" opacity="0.22"/><path d="M547.3,452.0 L549.7,435.0 L545.9,433.1 L543.3,451.4 Z" fill="#400" opacity="0.22"/><path d="M549.7,435.0 L552.1,432.6 L553.8,425.2 L545.9,433.1 Z" fill="#400" opacity="0.11"/><path d="M564.3,481.1 L567.4,478.7 L563.7,476.5 L566.3,474.5 Z" fill="#400" opacity="0.08"/><path d="M567.4,478.7 L570.3,461.7 L566.4,461.0 L563.7,476.5 Z" fill="#400" opacity="0.21"/><path d="M570.3,461.7 L572.7,447.1 L571.6,440.1 L566.4,461.0 Z" fill="#400" opacity="0.22"/><path d="M581.2,482.6 L583.7,473.8 L579.8,472.9 L581.4,477.3 Z" fill="#400" opacity="0.21"/><path d="M583.7,473.8 L587.3,452.0 L583.3,451.4 L579.8,472.9 Z" fill="#400" opacity="0.22"/><path d="M587.3,452.0 L590.9,427.7 L586.9,427.1 L583.3,451.4 Z" fill="#400" opacity="0.22"/><path d="M590.9,427.7 L594.1,404.7 L590.4,402.1 L586.9,427.1 Z" fill="#400" opacity="0.22"/><path d="M594.1,404.7 L596.5,403.5 L599.5,397.5 L590.4,402.1 Z" fill="#400" opacity="0.18"/><path d="M617.5,515.3 L619.3,506.8 L615.4,505.9 L617.0,508.9 Z" fill="#400" opacity="0.21"/><path d="M619.3,506.8 L621.6,497.5 L617.8,496.4 L615.4,505.9 Z" fill="#400" opacity="0.21"/><path d="M621.6,497.5 L623.9,490.4 L620.4,488.2 L617.8,496.4 Z" fill="#400" opacity="0.20"/><path d="M623.9,490.4 L626.3,488.1 L624.4,484.4 L620.4,488.2 Z" fill="#400" opacity="0.11"/><path d="M626.3,488.1 L629.2,487.5 L626.7,483.9 L624.4,484.4 Z" fill="#400" opacity="0.18"/><path d="M629.2,487.5 L631.8,483.4 L628.1,481.7 L626.7,483.9 Z" fill="#400" opacity="0.16"/><path d="M631.8,483.4 L632.5,481.1 L628.7,479.9 L628.1,481.7 Z" fill="#400" opacity="0.20"/></g>
<path d="M67.7,354.5 L67.7,393.1 L71.0,398.1 L74.0,408.2 L76.1,414.3 L78.1,409.2 L80.1,398.1 L82.1,402.2 L84.5,406.7 L87.1,402.2 L90.1,404.2 L92.1,410.2 L95.1,409.2 L97.1,414.7 L99.7,407.2 L102.1,399.2 L106.2,389.1 L109.0,377.0 L111.0,374.6 L112.8,377.0 L115.6,377.8 L118.8,377.0 L121.6,380.8 L125.5,386.4 L129.7,389.4 L130.6,395.1 L135.3,401.2 L139.3,415.2 L142.3,422.2 L146.3,435.3 L149.3,444.4 L151.3,438.3 L155.3,421.2 L160.3,415.2 L164.4,418.2 L168.4,422.2 L171.4,419.2 L175.0,402.2 L177.0,397.1 L180.0,400.2 L182.0,401.2 L184.0,415.2 L187.1,439.3 L189.1,453.3 L191.1,454.3 L193.1,449.3 L196.1,448.3 L199.1,435.3 L201.1,443.3 L203.1,452.8 L206.1,439.3 L209.1,423.2 L212.1,409.2 L215.2,401.2 L218.2,400.2 L221.2,396.1 L224.2,397.1 L226.2,403.2 L228.2,413.2 L230.2,420.7 L232.2,413.2 L234.2,395.1 L237.2,389.1 L239.2,398.1 L241.2,400.2 L243.3,396.1 L245.3,407.2 L247.3,423.2 L249.3,428.7 L251.3,422.2 L253.3,425.2 L256.3,431.3 L259.3,441.3 L262.3,457.3 L264.7,469.4 L267.0,478.5 L268.8,472.0 L270.3,459.4 L273.6,443.3 L277.2,428.0 L280.5,418.0 L283.2,404.0 L285.5,391.4 L287.2,397.0 L289.0,409.0 L290.2,416.5 L291.5,419.5 L294.0,420.2 L298.1,419.6 L300.1,412.2 L302.1,403.2 L304.1,407.2 L306.1,431.3 L307.3,432.0 L309.1,415.2 L311.1,406.2 L313.1,404.2 L316.1,405.2 L318.1,413.2 L319.7,416.7 L322.1,403.2 L325.2,395.1 L328.2,381.1 L330.2,372.1 L333.2,369.4 L336.2,368.6 L338.2,373.1 L340.2,382.1 L343.2,395.1 L345.2,401.7 L347.2,393.1 L349.3,383.0 L350.6,376.5 L351.9,383.0 L355.3,397.1 L358.3,415.2 L361.3,433.3 L364.3,453.3 L366.3,453.3 L368.3,431.3 L371.3,401.2 L373.3,379.1 L376.3,365.0 L378.7,363.5 L380.3,370.5 L382.3,365.0 L384.4,373.6 L387.4,368.0 L388.7,369.2 L390.9,371.7 L393.4,372.6 L395.0,383.4 L397.5,393.5 L400.1,401.8 L401.7,411.9 L404.2,425.2 L406.7,437.0 L408.4,445.3 L410.1,452.5 L414.3,468.2 L418.4,471.3 L423.7,477.6 L427.8,494.3 L432.0,496.4 L433.5,504.8 L435.1,527.2 L437.7,522.5 L439.7,526.1 L441.4,506.9 L443.5,488.1 L446.0,483.9 L447.7,498.5 L450.2,523.6 L452.9,536.1 L456.0,544.5 L458.1,553.3 L461.3,544.5 L465.4,536.1 L468.2,544.9 L470.7,538.2 L474.8,537.2 L478.0,535.1 L481.1,546.0 L483.2,538.2 L485.7,527.8 L487.4,523.6 L488.4,537.6 L489.9,523.6 L491.6,504.8 L493.6,488.1 L496.8,476.6 L498.9,478.7 L501.6,490.1 L504.1,501.0 L506.2,481.8 L508.3,471.3 L511.4,461.9 L515.6,448.4 L519.4,431.4 L523.0,427.7 L525.5,426.5 L527.9,431.4 L531.5,435.0 L535.2,432.6 L538.3,432.1 L541.2,437.4 L543.6,452.0 L545.6,464.4 L547.3,452.0 L549.7,435.0 L552.1,432.6 L554.6,439.9 L558.2,456.8 L561.8,473.8 L564.3,481.1 L567.4,478.7 L570.3,461.7 L572.7,447.1 L575.2,452.0 L577.6,464.1 L581.2,482.6 L583.7,473.8 L587.3,452.0 L590.9,427.7 L594.1,404.7 L596.5,403.5 L599.4,420.5 L603.1,439.9 L606.4,460.0 L607.6,474.0 L610.5,490.4 L613.4,504.5 L617.5,515.3 L619.3,506.8 L621.6,497.5 L623.9,490.4 L626.3,488.1 L629.2,487.5 L631.8,483.4 L632.5,481.1 L632.5,354.5 Z" fill="none" stroke="#5a1414" stroke-width="1.7" filter="url(#bl0)" opacity="0.8"/>
<rect x="629.1" y="362" width="4" height="160" fill="#8f2828" opacity="0.7" filter="url(#bl1)"/>
<path d="M67.5,362.5 L632.5,362.5 L628.3,367.3 L71.7,367.3 Z" fill="#e85a5a"/>
<rect x="71.5" y="366.7" width="557.0" height="1.4" fill="#e85a5a" opacity="0.5" filter="url(#bl1)"/>
</g>
<line x1="67.5" x2="67.5" y1="362" y2="588" stroke="#868686" stroke-width="1"/>
<line x1="63.5" x2="632.5" y1="362.5" y2="362.5" stroke="#8c8c8c" stroke-width="1"/>
<line x1="63.5" x2="67.5" y1="362.5" y2="362.5" stroke="#868686" stroke-width="1"/>
<text x="54.3" y="366.2" font-size="10.7" text-anchor="end" fill="#000" textLength="5.9" lengthAdjust="spacingAndGlyphs">0</text>
<line x1="63.5" x2="67.5" y1="390.5" y2="390.5" stroke="#868686" stroke-width="1"/>
<text x="54.3" y="394.2" font-size="10.7" text-anchor="end" fill="#000" textLength="40.2" lengthAdjust="spacingAndGlyphs">-50.000</text>
<line x1="63.5" x2="67.5" y1="418.5" y2="418.5" stroke="#868686" stroke-width="1"/>
<text x="54.3" y="422.2" font-size="10.7" text-anchor="end" fill="#000" textLength="47.3" lengthAdjust="spacingAndGlyphs">-100.000</text>
<line x1="63.5" x2="67.5" y1="446.5" y2="446.5" stroke="#868686" stroke-width="1"/>
<text x="54.3" y="450.2" font-size="10.7" text-anchor="end" fill="#000" textLength="47.3" lengthAdjust="spacingAndGlyphs">-150.000</text>
<line x1="63.5" x2="67.5" y1="474.5" y2="474.5" stroke="#868686" stroke-width="1"/>
<text x="54.3" y="478.2" font-size="10.7" text-anchor="end" fill="#000" textLength="47.3" lengthAdjust="spacingAndGlyphs">-200.000</text>
<line x1="63.5" x2="67.5" y1="502.5" y2="502.5" stroke="#868686" stroke-width="1"/>
<text x="54.3" y="506.2" font-size="10.7" text-anchor="end" fill="#000" textLength="47.3" lengthAdjust="spacingAndGlyphs">-250.000</text>
<line x1="63.5" x2="67.5" y1="531.5" y2="531.5" stroke="#868686" stroke-width="1"/>
<text x="54.3" y="535.2" font-size="10.7" text-anchor="end" fill="#000" textLength="47.3" lengthAdjust="spacingAndGlyphs">-300.000</text>
<line x1="63.5" x2="67.5" y1="559.5" y2="559.5" stroke="#868686" stroke-width="1"/>
<text x="54.3" y="563.2" font-size="10.7" text-anchor="end" fill="#000" textLength="47.3" lengthAdjust="spacingAndGlyphs">-350.000</text>
<line x1="63.5" x2="67.5" y1="587.5" y2="587.5" stroke="#868686" stroke-width="1"/>
<text x="54.3" y="591.2" font-size="10.7" text-anchor="end" fill="#000" textLength="47.3" lengthAdjust="spacingAndGlyphs">-400.000</text>
<line x1="85.83" x2="85.83" y1="363" y2="367.5" stroke="#968a8a" stroke-width="1"/>
<line x1="104.16" x2="104.16" y1="363" y2="367.5" stroke="#968a8a" stroke-width="1"/>
<line x1="122.49" x2="122.49" y1="363" y2="367.5" stroke="#968a8a" stroke-width="1"/>
<line x1="140.82" x2="140.82" y1="363" y2="367.5" stroke="#968a8a" stroke-width="1"/>
<line x1="159.15" x2="159.15" y1="363" y2="367.5" stroke="#968a8a" stroke-width="1"/>
<line x1="177.48" x2="177.48" y1="363" y2="367.5" stroke="#968a8a" stroke-width="1"/>
<line x1="195.81" x2="195.81" y1="363" y2="367.5" stroke="#968a8a" stroke-width="1"/>
<line x1="214.14" x2="214.14" y1="363" y2="367.5" stroke="#968a8a" stroke-width="1"/>
<line x1="232.47" x2="232.47" y1="363" y2="367.5" stroke="#968a8a" stroke-width="1"/>
<line x1="250.80" x2="250.80" y1="363" y2="367.5" stroke="#968a8a" stroke-width="1"/>
<line x1="269.13" x2="269.13" y1="363" y2="367.5" stroke="#968a8a" stroke-width="1"/>
<line x1="287.46" x2="287.46" y1="363" y2="367.5" stroke="#968a8a" stroke-width="1"/>
<line x1="305.79" x2="305.79" y1="363" y2="367.5" stroke="#968a8a" stroke-width="1"/>
<line x1="324.12" x2="324.12" y1="363" y2="367.5" stroke="#968a8a" stroke-width="1"/>
<line x1="342.45" x2="342.45" y1="363" y2="367.5" stroke="#968a8a" stroke-width="1"/>
<line x1="360.78" x2="360.78" y1="363" y2="367.5" stroke="#968a8a" stroke-width="1"/>
<line x1="379.11" x2="379.11" y1="363" y2="367.5" stroke="#968a8a" stroke-width="1"/>
<line x1="397.44" x2="397.44" y1="363" y2="367.5" stroke="#968a8a" stroke-width="1"/>
<line x1="415.77" x2="415.77" y1="363" y2="367.5" stroke="#968a8a" stroke-width="1"/>
<line x1="434.10" x2="434.10" y1="363" y2="367.5" stroke="#968a8a" stroke-width="1"/>
<line x1="452.43" x2="452.43" y1="363" y2="367.5" stroke="#968a8a" stroke-width="1"/>
<line x1="470.76" x2="470.76" y1="363" y2="367.5" stroke="#968a8a" stroke-width="1"/>
<line x1="489.09" x2="489.09" y1="363" y2="367.5" stroke="#968a8a" stroke-width="1"/>
<line x1="507.42" x2="507.42" y1="363" y2="367.5" stroke="#968a8a" stroke-width="1"/>
<line x1="525.75" x2="525.75" y1="363" y2="367.5" stroke="#968a8a" stroke-width="1"/>
<line x1="544.08" x2="544.08" y1="363" y2="367.5" stroke="#968a8a" stroke-width="1"/>
<line x1="562.41" x2="562.41" y1="363" y2="367.5" stroke="#968a8a" stroke-width="1"/>
<line x1="580.74" x2="580.74" y1="363" y2="367.5" stroke="#968a8a" stroke-width="1"/>
<line x1="599.07" x2="599.07" y1="363" y2="367.5" stroke="#968a8a" stroke-width="1"/>
<line x1="617.40" x2="617.40" y1="363" y2="367.5" stroke="#968a8a" stroke-width="1"/>
<text transform="translate(72.80,444.4) rotate(-90)" font-size="14.2" fill="#948a54" textLength="72.4" lengthAdjust="spacingAndGlyphs">30.07.2013</text>
<text transform="translate(91.13,444.4) rotate(-90)" font-size="14.2" fill="#948a54" textLength="72.4" lengthAdjust="spacingAndGlyphs">18.09.2013</text>
<text transform="translate(109.46,444.4) rotate(-90)" font-size="14.2" fill="#948a54" textLength="72.4" lengthAdjust="spacingAndGlyphs">07.11.2013</text>
<text transform="translate(127.79,444.4) rotate(-90)" font-size="14.2" fill="#948a54" textLength="72.4" lengthAdjust="spacingAndGlyphs">27.12.2013</text>
<text transform="translate(146.12,444.4) rotate(-90)" font-size="14.2" fill="#948a54" textLength="72.4" lengthAdjust="spacingAndGlyphs">15.02.2014</text>
<text transform="translate(164.45,444.4) rotate(-90)" font-size="14.2" fill="#948a54" textLength="72.4" lengthAdjust="spacingAndGlyphs">06.04.2014</text>
<text transform="translate(182.78,444.4) rotate(-90)" font-size="14.2" fill="#948a54" textLength="72.4" lengthAdjust="spacingAndGlyphs">26.05.2014</text>
<text transform="translate(201.11,444.4) rotate(-90)" font-size="14.2" fill="#948a54" textLength="72.4" lengthAdjust="spacingAndGlyphs">15.07.2014</text>
<text transform="translate(219.44,444.4) rotate(-90)" font-size="14.2" fill="#948a54" textLength="72.4" lengthAdjust="spacingAndGlyphs">03.09.2014</text>
<text transform="translate(237.77,444.4) rotate(-90)" font-size="14.2" fill="#948a54" textLength="72.4" lengthAdjust="spacingAndGlyphs">23.10.2014</text>
<text transform="translate(256.10,444.4) rotate(-90)" font-size="14.2" fill="#948a54" textLength="72.4" lengthAdjust="spacingAndGlyphs">12.12.2014</text>
<text transform="translate(274.43,444.4) rotate(-90)" font-size="14.2" fill="#948a54" textLength="72.4" lengthAdjust="spacingAndGlyphs">31.01.2015</text>
<text transform="translate(292.76,444.4) rotate(-90)" font-size="14.2" fill="#948a54" textLength="72.4" lengthAdjust="spacingAndGlyphs">22.03.2015</text>
<text transform="translate(311.09,444.4) rotate(-90)" font-size="14.2" fill="#948a54" textLength="72.4" lengthAdjust="spacingAndGlyphs">11.05.2015</text>
<text transform="translate(329.42,444.4) rotate(-90)" font-size="14.2" fill="#948a54" textLength="72.4" lengthAdjust="spacingAndGlyphs">30.06.2015</text>
<text transform="translate(347.75,444.4) rotate(-90)" font-size="14.2" fill="#948a54" textLength="72.4" lengthAdjust="spacingAndGlyphs">19.08.2015</text>
<text transform="translate(366.08,444.4) rotate(-90)" font-size="14.2" fill="#948a54" textLength="72.4" lengthAdjust="spacingAndGlyphs">08.10.2015</text>
<text transform="translate(384.41,444.4) rotate(-90)" font-size="14.2" fill="#948a54" textLength="72.4" lengthAdjust="spacingAndGlyphs">27.11.2015</text>
<text transform="translate(402.74,444.4) rotate(-90)" font-size="14.2" fill="#948a54" textLength="72.4" lengthAdjust="spacingAndGlyphs">16.01.2016</text>
<text transform="translate(421.07,444.4) rotate(-90)" font-size="14.2" fill="#948a54" textLength="72.4" lengthAdjust="spacingAndGlyphs">06.03.2016</text>
<text transform="translate(439.40,444.4) rotate(-90)" font-size="14.2" fill="#948a54" textLength="72.4" lengthAdjust="spacingAndGlyphs">25.04.2016</text>
<text transform="translate(457.73,444.4) rotate(-90)" font-size="14.2" fill="#948a54" textLength="72.4" lengthAdjust="spacingAndGlyphs">14.06.2016</text>
<text transform="translate(476.06,444.4) rotate(-90)" font-size="14.2" fill="#948a54" textLength="72.4" lengthAdjust="spacingAndGlyphs">03.08.2016</text>
<text transform="translate(494.39,444.4) rotate(-90)" font-size="14.2" fill="#948a54" textLength="72.4" lengthAdjust="spacingAndGlyphs">22.09.2016</text>
<text transform="translate(512.72,444.4) rotate(-90)" font-size="14.2" fill="#948a54" textLength="72.4" lengthAdjust="spacingAndGlyphs">11.11.2016</text>
<text transform="translate(531.05,444.4) rotate(-90)" font-size="14.2" fill="#948a54" textLength="72.4" lengthAdjust="spacingAndGlyphs">31.12.2016</text>
<text transform="translate(549.38,444.4) rotate(-90)" font-size="14.2" fill="#948a54" textLength="72.4" lengthAdjust="spacingAndGlyphs">19.02.2017</text>
<text transform="translate(567.71,444.4) rotate(-90)" font-size="14.2" fill="#948a54" textLength="72.4" lengthAdjust="spacingAndGlyphs">10.04.2017</text>
<text transform="translate(586.04,444.4) rotate(-90)" font-size="14.2" fill="#948a54" textLength="72.4" lengthAdjust="spacingAndGlyphs">30.05.2017</text>
<text transform="translate(604.37,444.4) rotate(-90)" font-size="14.2" fill="#948a54" textLength="72.4" lengthAdjust="spacingAndGlyphs">19.07.2017</text>
<text transform="translate(622.70,444.4) rotate(-90)" font-size="14.2" fill="#948a54" textLength="72.4" lengthAdjust="spacingAndGlyphs">07.09.2017</text>
<clipPath id="cL"><rect x="86.8" y="136.8" width="104.6" height="65.7"/></clipPath>
<g><rect x="86.8" y="136.8" width="104.6" height="65.7" fill="#9c781d"/>
<g clip-path="url(#cL)">
<g filter="url(#bl0)"><path d="M86.8,202.5 L86.8,136.8 L191.4,136.8 L189,139.2 L89,139.2 L89,200.1 Z" fill="#cfb068"/>
<path d="M86.8,202.5 L191.4,202.5 L191.4,136.8 L188.8,139.4 L188.8,199.9 L89.2,199.9 Z" fill="#3a2908"/></g>
</g>
<path d="M106.9,168.6 C107.2,173 105.8,178.6 103,183.4" fill="none" stroke="#fff" stroke-width="1.8" stroke-linecap="round"/>
<text fill="#fff" font-style="italic"><tspan x="92.50" y="174.6" font-size="27" stroke="#fff" stroke-width="0.4" textLength="17.70" lengthAdjust="spacingAndGlyphs">G</tspan><tspan x="109.55" y="174" font-size="11.6" font-weight="bold" textLength="74.74" lengthAdjust="spacingAndGlyphs">oldreporter.de</tspan></text></g>
<text x="232.85" y="180.2" font-size="19.2" font-weight="bold" fill="#111" textLength="193.72" lengthAdjust="spacingAndGlyphs">Große Spekulanten</text>
<text x="288.25" y="508.4" font-size="19.4" font-weight="bold" fill="#ff0000" textLength="129.42" lengthAdjust="spacingAndGlyphs">Commercials</text>
<text transform="translate(648.1,247.4) rotate(90)" font-size="14" font-weight="bold" fill="#444" textLength="28.3" lengthAdjust="spacingAndGlyphs">Long</text>
<text transform="translate(653.2,438.1) rotate(90)" font-size="14.3" font-weight="bold" fill="#c00000" textLength="33.1" lengthAdjust="spacingAndGlyphs">Short</text>
</svg></body></html>
